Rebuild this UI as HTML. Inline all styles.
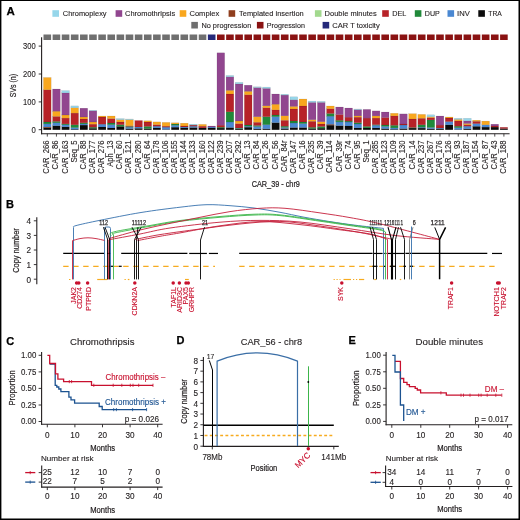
<!DOCTYPE html>
<html><head><meta charset="utf-8"><title>Figure</title>
<style>
html,body{margin:0;padding:0;background:#fff;width:520px;height:520px;overflow:hidden}
svg{display:block;will-change:transform}
text{font-family:"Liberation Sans", sans-serif}
</style></head><body>
<svg width="520" height="520" viewBox="0 0 520 520">
<rect width="520" height="520" fill="#fff"/>
<text x="6.6" y="15.1" font-size="11" fill="#000" textLength="8.3" lengthAdjust="spacingAndGlyphs" font-weight="bold" stroke="#000" stroke-width="0.25">A</text>
<rect x="52.4" y="10.2" width="6.6" height="6.6" fill="#96d6ea"/>
<text x="62.8" y="16.3" font-size="7.9" fill="#231f20" stroke="#231f20" stroke-width="0.12" textLength="43.8" lengthAdjust="spacingAndGlyphs">Chromoplexy</text>
<rect x="115.6" y="10.2" width="6.6" height="6.6" fill="#91468f"/>
<text x="125" y="16.3" font-size="7.9" fill="#231f20" stroke="#231f20" stroke-width="0.12" textLength="50.2" lengthAdjust="spacingAndGlyphs">Chromothripsis</text>
<rect x="179.7" y="10.2" width="6.6" height="6.6" fill="#f9a71e"/>
<text x="189.5" y="16.3" font-size="7.9" fill="#231f20" stroke="#231f20" stroke-width="0.12" textLength="29.7" lengthAdjust="spacingAndGlyphs">Complex</text>
<rect x="228.6" y="10.2" width="6.6" height="6.6" fill="#8f3e1d"/>
<text x="239" y="16.3" font-size="7.9" fill="#231f20" stroke="#231f20" stroke-width="0.12" textLength="64.7" lengthAdjust="spacingAndGlyphs">Templated insertion</text>
<rect x="314.9" y="10.2" width="6.6" height="6.6" fill="#a2d98e"/>
<text x="324.6" y="16.3" font-size="7.9" fill="#231f20" stroke="#231f20" stroke-width="0.12" textLength="52.1" lengthAdjust="spacingAndGlyphs">Double minutes</text>
<rect x="382.2" y="10.2" width="6.6" height="6.6" fill="#b72228"/>
<text x="392.2" y="16.3" font-size="7.9" fill="#231f20" stroke="#231f20" stroke-width="0.12" textLength="14.1" lengthAdjust="spacingAndGlyphs">DEL</text>
<rect x="414.8" y="10.2" width="6.6" height="6.6" fill="#20893a"/>
<text x="424.8" y="16.3" font-size="7.9" fill="#231f20" stroke="#231f20" stroke-width="0.12" textLength="15" lengthAdjust="spacingAndGlyphs">DUP</text>
<rect x="447.5" y="10.2" width="6.6" height="6.6" fill="#4a88d2"/>
<text x="457.1" y="16.3" font-size="7.9" fill="#231f20" stroke="#231f20" stroke-width="0.12" textLength="12.7" lengthAdjust="spacingAndGlyphs">INV</text>
<rect x="478.3" y="10.2" width="6.6" height="6.6" fill="#0b0b0b"/>
<text x="488.3" y="16.3" font-size="7.9" fill="#231f20" stroke="#231f20" stroke-width="0.12" textLength="13.5" lengthAdjust="spacingAndGlyphs">TRA</text>
<rect x="191.3" y="21.9" width="6.6" height="6.6" fill="#6f6f6f"/>
<text x="201.4" y="28.4" font-size="7.9" fill="#231f20" stroke="#231f20" stroke-width="0.12" textLength="49.9" lengthAdjust="spacingAndGlyphs">No progression</text>
<rect x="256.9" y="21.9" width="6.6" height="6.6" fill="#8a1212"/>
<text x="266.8" y="28.4" font-size="7.9" fill="#231f20" stroke="#231f20" stroke-width="0.12" textLength="38.1" lengthAdjust="spacingAndGlyphs">Progression</text>
<rect x="322.6" y="21.9" width="6.6" height="6.6" fill="#25297a"/>
<text x="332.3" y="28.4" font-size="7.9" fill="#231f20" stroke="#231f20" stroke-width="0.12" textLength="47.4" lengthAdjust="spacingAndGlyphs">CAR T toxicity</text>
<g stroke="rgba(0,0,0,0.18)" stroke-width="0.4">
<rect x="43.45" y="127.7" width="7.7" height="2.1" fill="#0b0b0b"/>
<rect x="43.45" y="127" width="7.7" height="0.7" fill="#8f3e1d"/>
<rect x="43.45" y="123.9" width="7.7" height="3.1" fill="#4a88d2"/>
<rect x="43.45" y="122" width="7.7" height="1.9" fill="#20893a"/>
<rect x="43.45" y="89.8" width="7.7" height="32.2" fill="#b72228"/>
<rect x="43.45" y="77.5" width="7.7" height="12.3" fill="#f9a71e"/>
<rect x="52.58" y="125.7" width="7.7" height="4.1" fill="#0b0b0b"/>
<rect x="52.58" y="122.8" width="7.7" height="2.9" fill="#4a88d2"/>
<rect x="52.58" y="121.4" width="7.7" height="1.4" fill="#20893a"/>
<rect x="52.58" y="116.4" width="7.7" height="5" fill="#b72228"/>
<rect x="52.58" y="111.2" width="7.7" height="5.2" fill="#f9a71e"/>
<rect x="52.58" y="89" width="7.7" height="22.2" fill="#91468f"/>
<rect x="61.71" y="126.8" width="7.7" height="3" fill="#0b0b0b"/>
<rect x="61.71" y="124.8" width="7.7" height="2" fill="#4a88d2"/>
<rect x="61.71" y="123.9" width="7.7" height="0.9" fill="#20893a"/>
<rect x="61.71" y="118.1" width="7.7" height="5.8" fill="#b72228"/>
<rect x="61.71" y="115" width="7.7" height="3.1" fill="#f9a71e"/>
<rect x="61.71" y="92.9" width="7.7" height="22.1" fill="#91468f"/>
<rect x="61.71" y="90.6" width="7.7" height="2.3" fill="#96d6ea"/>
<rect x="70.85" y="129.3" width="7.7" height="0.5" fill="#0b0b0b"/>
<rect x="70.85" y="127.6" width="7.7" height="1.7" fill="#4a88d2"/>
<rect x="70.85" y="124.8" width="7.7" height="2.8" fill="#20893a"/>
<rect x="70.85" y="113.1" width="7.7" height="11.7" fill="#b72228"/>
<rect x="70.85" y="107.8" width="7.7" height="5.3" fill="#f9a71e"/>
<rect x="70.85" y="105.9" width="7.7" height="1.9" fill="#96d6ea"/>
<rect x="79.98" y="125.1" width="7.7" height="4.7" fill="#0b0b0b"/>
<rect x="79.98" y="123.9" width="7.7" height="1.2" fill="#4a88d2"/>
<rect x="79.98" y="122.8" width="7.7" height="1.1" fill="#20893a"/>
<rect x="79.98" y="119" width="7.7" height="3.8" fill="#b72228"/>
<rect x="79.98" y="117" width="7.7" height="2" fill="#f9a71e"/>
<rect x="79.98" y="108.2" width="7.7" height="8.8" fill="#91468f"/>
<rect x="89.11" y="128.3" width="7.7" height="1.5" fill="#0b0b0b"/>
<rect x="89.11" y="127.2" width="7.7" height="1.1" fill="#20893a"/>
<rect x="89.11" y="124.2" width="7.7" height="3" fill="#b72228"/>
<rect x="89.11" y="122" width="7.7" height="2.2" fill="#f9a71e"/>
<rect x="89.11" y="110.8" width="7.7" height="11.2" fill="#91468f"/>
<rect x="89.11" y="110.2" width="7.7" height="0.6" fill="#96d6ea"/>
<rect x="98.24" y="127" width="7.7" height="2.8" fill="#0b0b0b"/>
<rect x="98.24" y="124.2" width="7.7" height="2.8" fill="#4a88d2"/>
<rect x="98.24" y="117" width="7.7" height="7.2" fill="#b72228"/>
<rect x="98.24" y="116" width="7.7" height="1" fill="#f9a71e"/>
<rect x="107.37" y="128" width="7.7" height="1.8" fill="#0b0b0b"/>
<rect x="107.37" y="124.7" width="7.7" height="3.3" fill="#4a88d2"/>
<rect x="107.37" y="123" width="7.7" height="1.7" fill="#20893a"/>
<rect x="107.37" y="118.6" width="7.7" height="4.4" fill="#b72228"/>
<rect x="107.37" y="116" width="7.7" height="2.6" fill="#f9a71e"/>
<rect x="116.51" y="126.4" width="7.7" height="3.4" fill="#0b0b0b"/>
<rect x="116.51" y="124.7" width="7.7" height="1.7" fill="#20893a"/>
<rect x="116.51" y="122" width="7.7" height="2.7" fill="#b72228"/>
<rect x="116.51" y="119.7" width="7.7" height="2.3" fill="#f9a71e"/>
<rect x="116.51" y="118.6" width="7.7" height="1.1" fill="#96d6ea"/>
<rect x="125.64" y="128.6" width="7.7" height="1.2" fill="#0b0b0b"/>
<rect x="125.64" y="127.2" width="7.7" height="1.4" fill="#4a88d2"/>
<rect x="125.64" y="126.4" width="7.7" height="0.8" fill="#20893a"/>
<rect x="125.64" y="125.8" width="7.7" height="0.6" fill="#b72228"/>
<rect x="125.64" y="119.7" width="7.7" height="6.1" fill="#f9a71e"/>
<rect x="125.64" y="119" width="7.7" height="0.7" fill="#96d6ea"/>
<rect x="134.77" y="128.3" width="7.7" height="1.5" fill="#0b0b0b"/>
<rect x="134.77" y="127" width="7.7" height="1.3" fill="#4a88d2"/>
<rect x="134.77" y="120.5" width="7.7" height="6.5" fill="#b72228"/>
<rect x="143.9" y="128.6" width="7.7" height="1.2" fill="#0b0b0b"/>
<rect x="143.9" y="126.4" width="7.7" height="2.2" fill="#20893a"/>
<rect x="143.9" y="122" width="7.7" height="4.4" fill="#b72228"/>
<rect x="143.9" y="120.8" width="7.7" height="1.2" fill="#f9a71e"/>
<rect x="153.03" y="127.9" width="7.7" height="1.9" fill="#0b0b0b"/>
<rect x="153.03" y="126.2" width="7.7" height="1.7" fill="#4a88d2"/>
<rect x="153.03" y="124.7" width="7.7" height="1.5" fill="#b72228"/>
<rect x="153.03" y="121.9" width="7.7" height="2.8" fill="#f9a71e"/>
<rect x="162.17" y="129.4" width="7.7" height="0.4" fill="#0b0b0b"/>
<rect x="162.17" y="127.2" width="7.7" height="2.2" fill="#4a88d2"/>
<rect x="162.17" y="126.2" width="7.7" height="1" fill="#b72228"/>
<rect x="162.17" y="122.4" width="7.7" height="3.8" fill="#f9a71e"/>
<rect x="171.3" y="127.2" width="7.7" height="2.6" fill="#0b0b0b"/>
<rect x="171.3" y="125.3" width="7.7" height="1.9" fill="#4a88d2"/>
<rect x="171.3" y="124" width="7.7" height="1.3" fill="#20893a"/>
<rect x="171.3" y="122.8" width="7.7" height="1.2" fill="#f9a71e"/>
<rect x="180.43" y="127.9" width="7.7" height="1.9" fill="#0b0b0b"/>
<rect x="180.43" y="127" width="7.7" height="0.9" fill="#4a88d2"/>
<rect x="180.43" y="126" width="7.7" height="1" fill="#b72228"/>
<rect x="180.43" y="123.2" width="7.7" height="2.8" fill="#f9a71e"/>
<rect x="189.56" y="127.5" width="7.7" height="2.3" fill="#0b0b0b"/>
<rect x="189.56" y="126.2" width="7.7" height="1.3" fill="#4a88d2"/>
<rect x="189.56" y="125.1" width="7.7" height="1.1" fill="#b72228"/>
<rect x="189.56" y="124.2" width="7.7" height="0.9" fill="#96d6ea"/>
<rect x="198.69" y="127.9" width="7.7" height="1.9" fill="#0b0b0b"/>
<rect x="198.69" y="126.2" width="7.7" height="1.7" fill="#b72228"/>
<rect x="198.69" y="124.4" width="7.7" height="1.8" fill="#f9a71e"/>
<rect x="207.83" y="127.9" width="7.7" height="1.9" fill="#0b0b0b"/>
<rect x="207.83" y="127" width="7.7" height="0.9" fill="#4a88d2"/>
<rect x="207.83" y="126" width="7.7" height="1" fill="#91468f"/>
<rect x="216.96" y="128.1" width="7.7" height="1.7" fill="#0b0b0b"/>
<rect x="216.96" y="127.2" width="7.7" height="0.9" fill="#20893a"/>
<rect x="216.96" y="125.2" width="7.7" height="2" fill="#b72228"/>
<rect x="216.96" y="52.8" width="7.7" height="72.4" fill="#91468f"/>
<rect x="226.09" y="127.5" width="7.7" height="2.3" fill="#0b0b0b"/>
<rect x="226.09" y="122" width="7.7" height="5.5" fill="#4a88d2"/>
<rect x="226.09" y="111.8" width="7.7" height="10.2" fill="#20893a"/>
<rect x="226.09" y="94" width="7.7" height="17.8" fill="#b72228"/>
<rect x="226.09" y="90.3" width="7.7" height="3.7" fill="#f9a71e"/>
<rect x="226.09" y="76.8" width="7.7" height="13.5" fill="#91468f"/>
<rect x="226.09" y="75.5" width="7.7" height="1.3" fill="#96d6ea"/>
<rect x="235.22" y="129" width="7.7" height="0.8" fill="#0b0b0b"/>
<rect x="235.22" y="128.5" width="7.7" height="0.5" fill="#4a88d2"/>
<rect x="235.22" y="128" width="7.7" height="0.5" fill="#20893a"/>
<rect x="235.22" y="123.6" width="7.7" height="4.4" fill="#b72228"/>
<rect x="235.22" y="121" width="7.7" height="2.6" fill="#f9a71e"/>
<rect x="235.22" y="83.9" width="7.7" height="37.1" fill="#91468f"/>
<rect x="235.22" y="82.4" width="7.7" height="1.5" fill="#96d6ea"/>
<rect x="244.35" y="127.2" width="7.7" height="2.6" fill="#0b0b0b"/>
<rect x="244.35" y="126.2" width="7.7" height="1" fill="#4a88d2"/>
<rect x="244.35" y="125" width="7.7" height="1.2" fill="#20893a"/>
<rect x="244.35" y="94.8" width="7.7" height="30.2" fill="#b72228"/>
<rect x="244.35" y="91.3" width="7.7" height="3.5" fill="#f9a71e"/>
<rect x="244.35" y="85.2" width="7.7" height="6.1" fill="#91468f"/>
<rect x="253.49" y="128.8" width="7.7" height="1" fill="#0b0b0b"/>
<rect x="253.49" y="126.5" width="7.7" height="2.3" fill="#4a88d2"/>
<rect x="253.49" y="125.5" width="7.7" height="1" fill="#20893a"/>
<rect x="253.49" y="122.3" width="7.7" height="3.2" fill="#b72228"/>
<rect x="253.49" y="116.7" width="7.7" height="5.6" fill="#f9a71e"/>
<rect x="253.49" y="87.6" width="7.7" height="29.1" fill="#91468f"/>
<rect x="253.49" y="86.8" width="7.7" height="0.8" fill="#96d6ea"/>
<rect x="262.62" y="128.8" width="7.7" height="1" fill="#0b0b0b"/>
<rect x="262.62" y="124.7" width="7.7" height="4.1" fill="#4a88d2"/>
<rect x="262.62" y="116.7" width="7.7" height="8" fill="#20893a"/>
<rect x="262.62" y="107.8" width="7.7" height="8.9" fill="#b72228"/>
<rect x="262.62" y="105.8" width="7.7" height="2" fill="#f9a71e"/>
<rect x="262.62" y="88.4" width="7.7" height="17.4" fill="#91468f"/>
<rect x="262.62" y="87.1" width="7.7" height="1.3" fill="#96d6ea"/>
<rect x="271.75" y="122.6" width="7.7" height="7.2" fill="#0b0b0b"/>
<rect x="271.75" y="116.7" width="7.7" height="5.9" fill="#4a88d2"/>
<rect x="271.75" y="115" width="7.7" height="1.7" fill="#20893a"/>
<rect x="271.75" y="109.9" width="7.7" height="5.1" fill="#b72228"/>
<rect x="271.75" y="104.2" width="7.7" height="5.7" fill="#f9a71e"/>
<rect x="271.75" y="94" width="7.7" height="10.2" fill="#91468f"/>
<rect x="280.88" y="128.5" width="7.7" height="1.3" fill="#0b0b0b"/>
<rect x="280.88" y="127.5" width="7.7" height="1" fill="#4a88d2"/>
<rect x="280.88" y="126.2" width="7.7" height="1.3" fill="#20893a"/>
<rect x="280.88" y="120.3" width="7.7" height="5.9" fill="#b72228"/>
<rect x="280.88" y="115.8" width="7.7" height="4.5" fill="#f9a71e"/>
<rect x="280.88" y="95.1" width="7.7" height="20.7" fill="#91468f"/>
<rect x="280.88" y="94.3" width="7.7" height="0.8" fill="#96d6ea"/>
<rect x="290.01" y="127.5" width="7.7" height="2.3" fill="#0b0b0b"/>
<rect x="290.01" y="123" width="7.7" height="4.5" fill="#4a88d2"/>
<rect x="290.01" y="121" width="7.7" height="2" fill="#20893a"/>
<rect x="290.01" y="109" width="7.7" height="12" fill="#b72228"/>
<rect x="290.01" y="106.4" width="7.7" height="2.6" fill="#f9a71e"/>
<rect x="290.01" y="99.8" width="7.7" height="6.6" fill="#91468f"/>
<rect x="290.01" y="96.8" width="7.7" height="3" fill="#96d6ea"/>
<rect x="299.15" y="127.5" width="7.7" height="2.3" fill="#0b0b0b"/>
<rect x="299.15" y="123.6" width="7.7" height="3.9" fill="#4a88d2"/>
<rect x="299.15" y="122" width="7.7" height="1.6" fill="#20893a"/>
<rect x="299.15" y="106" width="7.7" height="16" fill="#b72228"/>
<rect x="299.15" y="99" width="7.7" height="7" fill="#f9a71e"/>
<rect x="308.28" y="128.5" width="7.7" height="1.3" fill="#0b0b0b"/>
<rect x="308.28" y="127.3" width="7.7" height="1.2" fill="#20893a"/>
<rect x="308.28" y="121.3" width="7.7" height="6" fill="#b72228"/>
<rect x="308.28" y="119.7" width="7.7" height="1.6" fill="#f9a71e"/>
<rect x="308.28" y="102.4" width="7.7" height="17.3" fill="#91468f"/>
<rect x="308.28" y="101.1" width="7.7" height="1.3" fill="#96d6ea"/>
<rect x="317.41" y="128.2" width="7.7" height="1.6" fill="#0b0b0b"/>
<rect x="317.41" y="126.5" width="7.7" height="1.7" fill="#20893a"/>
<rect x="317.41" y="124" width="7.7" height="2.5" fill="#b72228"/>
<rect x="317.41" y="121.7" width="7.7" height="2.3" fill="#f9a71e"/>
<rect x="317.41" y="102.4" width="7.7" height="19.3" fill="#91468f"/>
<rect x="317.41" y="101.4" width="7.7" height="1" fill="#96d6ea"/>
<rect x="326.54" y="125.2" width="7.7" height="4.6" fill="#0b0b0b"/>
<rect x="326.54" y="124.3" width="7.7" height="0.9" fill="#8f3e1d"/>
<rect x="326.54" y="116.2" width="7.7" height="8.1" fill="#4a88d2"/>
<rect x="326.54" y="113.5" width="7.7" height="2.7" fill="#20893a"/>
<rect x="326.54" y="108.8" width="7.7" height="4.7" fill="#b72228"/>
<rect x="326.54" y="106" width="7.7" height="2.8" fill="#f9a71e"/>
<rect x="335.67" y="125.6" width="7.7" height="4.2" fill="#0b0b0b"/>
<rect x="335.67" y="121.9" width="7.7" height="3.7" fill="#4a88d2"/>
<rect x="335.67" y="120.3" width="7.7" height="1.6" fill="#20893a"/>
<rect x="335.67" y="114.5" width="7.7" height="5.8" fill="#b72228"/>
<rect x="335.67" y="107" width="7.7" height="7.5" fill="#91468f"/>
<rect x="344.81" y="126" width="7.7" height="3.8" fill="#0b0b0b"/>
<rect x="344.81" y="122" width="7.7" height="4" fill="#4a88d2"/>
<rect x="344.81" y="121.1" width="7.7" height="0.9" fill="#20893a"/>
<rect x="344.81" y="117.2" width="7.7" height="3.9" fill="#b72228"/>
<rect x="344.81" y="108" width="7.7" height="9.2" fill="#91468f"/>
<rect x="353.94" y="127.9" width="7.7" height="1.9" fill="#0b0b0b"/>
<rect x="353.94" y="124" width="7.7" height="3.9" fill="#4a88d2"/>
<rect x="353.94" y="122.7" width="7.7" height="1.3" fill="#20893a"/>
<rect x="353.94" y="117.2" width="7.7" height="5.5" fill="#b72228"/>
<rect x="353.94" y="115.9" width="7.7" height="1.3" fill="#f9a71e"/>
<rect x="353.94" y="109.6" width="7.7" height="6.3" fill="#91468f"/>
<rect x="353.94" y="109" width="7.7" height="0.6" fill="#96d6ea"/>
<rect x="363.07" y="127.9" width="7.7" height="1.9" fill="#0b0b0b"/>
<rect x="363.07" y="126.4" width="7.7" height="1.5" fill="#20893a"/>
<rect x="363.07" y="118.1" width="7.7" height="8.3" fill="#b72228"/>
<rect x="363.07" y="109.4" width="7.7" height="8.7" fill="#91468f"/>
<rect x="372.2" y="127.9" width="7.7" height="1.9" fill="#0b0b0b"/>
<rect x="372.2" y="125.3" width="7.7" height="2.6" fill="#4a88d2"/>
<rect x="372.2" y="124.7" width="7.7" height="0.6" fill="#20893a"/>
<rect x="372.2" y="118.1" width="7.7" height="6.6" fill="#b72228"/>
<rect x="372.2" y="115.9" width="7.7" height="2.2" fill="#f9a71e"/>
<rect x="372.2" y="110.9" width="7.7" height="5" fill="#91468f"/>
<rect x="381.33" y="128.6" width="7.7" height="1.2" fill="#0b0b0b"/>
<rect x="381.33" y="126.4" width="7.7" height="2.2" fill="#4a88d2"/>
<rect x="381.33" y="125" width="7.7" height="1.4" fill="#20893a"/>
<rect x="381.33" y="117.5" width="7.7" height="7.5" fill="#b72228"/>
<rect x="381.33" y="112" width="7.7" height="5.5" fill="#91468f"/>
<rect x="390.47" y="129.3" width="7.7" height="0.5" fill="#0b0b0b"/>
<rect x="390.47" y="127.9" width="7.7" height="1.4" fill="#4a88d2"/>
<rect x="390.47" y="125.3" width="7.7" height="2.6" fill="#20893a"/>
<rect x="390.47" y="115.9" width="7.7" height="9.4" fill="#b72228"/>
<rect x="390.47" y="113.3" width="7.7" height="2.6" fill="#f9a71e"/>
<rect x="399.6" y="128.6" width="7.7" height="1.2" fill="#0b0b0b"/>
<rect x="399.6" y="125" width="7.7" height="3.6" fill="#4a88d2"/>
<rect x="399.6" y="124" width="7.7" height="1" fill="#b72228"/>
<rect x="399.6" y="113.9" width="7.7" height="10.1" fill="#91468f"/>
<rect x="408.73" y="128.1" width="7.7" height="1.7" fill="#0b0b0b"/>
<rect x="408.73" y="127.5" width="7.7" height="0.6" fill="#20893a"/>
<rect x="408.73" y="119" width="7.7" height="8.5" fill="#b72228"/>
<rect x="408.73" y="113.7" width="7.7" height="5.3" fill="#f9a71e"/>
<rect x="417.86" y="128.1" width="7.7" height="1.7" fill="#0b0b0b"/>
<rect x="417.86" y="127.2" width="7.7" height="0.9" fill="#4a88d2"/>
<rect x="417.86" y="124.8" width="7.7" height="2.4" fill="#20893a"/>
<rect x="417.86" y="118.3" width="7.7" height="6.5" fill="#b72228"/>
<rect x="417.86" y="114.4" width="7.7" height="3.9" fill="#f9a71e"/>
<rect x="426.99" y="128.8" width="7.7" height="1" fill="#0b0b0b"/>
<rect x="426.99" y="127.5" width="7.7" height="1.3" fill="#4a88d2"/>
<rect x="426.99" y="119.9" width="7.7" height="7.6" fill="#20893a"/>
<rect x="426.99" y="117.7" width="7.7" height="2.2" fill="#b72228"/>
<rect x="426.99" y="116.7" width="7.7" height="1" fill="#f9a71e"/>
<rect x="426.99" y="114.8" width="7.7" height="1.9" fill="#96d6ea"/>
<rect x="436.13" y="129" width="7.7" height="0.8" fill="#0b0b0b"/>
<rect x="436.13" y="128.1" width="7.7" height="0.9" fill="#4a88d2"/>
<rect x="436.13" y="125.1" width="7.7" height="3" fill="#b72228"/>
<rect x="436.13" y="116" width="7.7" height="9.1" fill="#91468f"/>
<rect x="445.26" y="124.8" width="7.7" height="5" fill="#0b0b0b"/>
<rect x="445.26" y="121.6" width="7.7" height="3.2" fill="#4a88d2"/>
<rect x="445.26" y="118" width="7.7" height="3.6" fill="#b72228"/>
<rect x="445.26" y="117" width="7.7" height="1" fill="#f9a71e"/>
<rect x="454.39" y="129.4" width="7.7" height="0.4" fill="#0b0b0b"/>
<rect x="454.39" y="127.7" width="7.7" height="1.7" fill="#4a88d2"/>
<rect x="454.39" y="126.2" width="7.7" height="1.5" fill="#20893a"/>
<rect x="454.39" y="120.9" width="7.7" height="5.3" fill="#b72228"/>
<rect x="454.39" y="119.4" width="7.7" height="1.5" fill="#f9a71e"/>
<rect x="454.39" y="118.3" width="7.7" height="1.1" fill="#96d6ea"/>
<rect x="463.52" y="128.8" width="7.7" height="1" fill="#0b0b0b"/>
<rect x="463.52" y="126.2" width="7.7" height="2.6" fill="#4a88d2"/>
<rect x="463.52" y="124.8" width="7.7" height="1.4" fill="#b72228"/>
<rect x="463.52" y="123.5" width="7.7" height="1.3" fill="#f9a71e"/>
<rect x="463.52" y="120.9" width="7.7" height="2.6" fill="#91468f"/>
<rect x="463.52" y="118.3" width="7.7" height="2.6" fill="#96d6ea"/>
<rect x="472.65" y="126.3" width="7.7" height="3.5" fill="#0b0b0b"/>
<rect x="472.65" y="123.6" width="7.7" height="2.7" fill="#4a88d2"/>
<rect x="472.65" y="121.3" width="7.7" height="2.3" fill="#b72228"/>
<rect x="472.65" y="120.2" width="7.7" height="1.1" fill="#f9a71e"/>
<rect x="481.79" y="127.1" width="7.7" height="2.7" fill="#0b0b0b"/>
<rect x="481.79" y="124.8" width="7.7" height="2.3" fill="#4a88d2"/>
<rect x="481.79" y="121.1" width="7.7" height="3.7" fill="#f9a71e"/>
<rect x="490.92" y="127.1" width="7.7" height="2.7" fill="#0b0b0b"/>
<rect x="490.92" y="126" width="7.7" height="1.1" fill="#b72228"/>
<rect x="490.92" y="124.2" width="7.7" height="1.8" fill="#91468f"/>
<rect x="500.05" y="128.6" width="7.7" height="1.2" fill="#0b0b0b"/>
<rect x="500.05" y="127.3" width="7.7" height="1.3" fill="#b72228"/>
</g>
<rect x="43.5" y="34.5" width="7.6" height="5.5" fill="#6f6f6f"/>
<rect x="52.63" y="34.5" width="7.6" height="5.5" fill="#6f6f6f"/>
<rect x="61.76" y="34.5" width="7.6" height="5.5" fill="#6f6f6f"/>
<rect x="70.9" y="34.5" width="7.6" height="5.5" fill="#6f6f6f"/>
<rect x="80.03" y="34.5" width="7.6" height="5.5" fill="#6f6f6f"/>
<rect x="89.16" y="34.5" width="7.6" height="5.5" fill="#6f6f6f"/>
<rect x="98.29" y="34.5" width="7.6" height="5.5" fill="#6f6f6f"/>
<rect x="107.42" y="34.5" width="7.6" height="5.5" fill="#6f6f6f"/>
<rect x="116.56" y="34.5" width="7.6" height="5.5" fill="#6f6f6f"/>
<rect x="125.69" y="34.5" width="7.6" height="5.5" fill="#6f6f6f"/>
<rect x="134.82" y="34.5" width="7.6" height="5.5" fill="#6f6f6f"/>
<rect x="143.95" y="34.5" width="7.6" height="5.5" fill="#6f6f6f"/>
<rect x="153.08" y="34.5" width="7.6" height="5.5" fill="#6f6f6f"/>
<rect x="162.22" y="34.5" width="7.6" height="5.5" fill="#6f6f6f"/>
<rect x="171.35" y="34.5" width="7.6" height="5.5" fill="#6f6f6f"/>
<rect x="180.48" y="34.5" width="7.6" height="5.5" fill="#6f6f6f"/>
<rect x="189.61" y="34.5" width="7.6" height="5.5" fill="#6f6f6f"/>
<rect x="198.74" y="34.5" width="7.6" height="5.5" fill="#6f6f6f"/>
<rect x="207.88" y="34.5" width="7.6" height="5.5" fill="#25297a"/>
<rect x="217.01" y="34.5" width="7.6" height="5.5" fill="#8a1212"/>
<rect x="226.14" y="34.5" width="7.6" height="5.5" fill="#8a1212"/>
<rect x="235.27" y="34.5" width="7.6" height="5.5" fill="#8a1212"/>
<rect x="244.4" y="34.5" width="7.6" height="5.5" fill="#8a1212"/>
<rect x="253.54" y="34.5" width="7.6" height="5.5" fill="#8a1212"/>
<rect x="262.67" y="34.5" width="7.6" height="5.5" fill="#8a1212"/>
<rect x="271.8" y="34.5" width="7.6" height="5.5" fill="#8a1212"/>
<rect x="280.93" y="34.5" width="7.6" height="5.5" fill="#8a1212"/>
<rect x="290.06" y="34.5" width="7.6" height="5.5" fill="#8a1212"/>
<rect x="299.2" y="34.5" width="7.6" height="5.5" fill="#8a1212"/>
<rect x="308.33" y="34.5" width="7.6" height="5.5" fill="#8a1212"/>
<rect x="317.46" y="34.5" width="7.6" height="5.5" fill="#8a1212"/>
<rect x="326.59" y="34.5" width="7.6" height="5.5" fill="#8a1212"/>
<rect x="335.72" y="34.5" width="7.6" height="5.5" fill="#8a1212"/>
<rect x="344.86" y="34.5" width="7.6" height="5.5" fill="#8a1212"/>
<rect x="353.99" y="34.5" width="7.6" height="5.5" fill="#8a1212"/>
<rect x="363.12" y="34.5" width="7.6" height="5.5" fill="#8a1212"/>
<rect x="372.25" y="34.5" width="7.6" height="5.5" fill="#8a1212"/>
<rect x="381.38" y="34.5" width="7.6" height="5.5" fill="#8a1212"/>
<rect x="390.52" y="34.5" width="7.6" height="5.5" fill="#8a1212"/>
<rect x="399.65" y="34.5" width="7.6" height="5.5" fill="#8a1212"/>
<rect x="408.78" y="34.5" width="7.6" height="5.5" fill="#8a1212"/>
<rect x="417.91" y="34.5" width="7.6" height="5.5" fill="#8a1212"/>
<rect x="427.04" y="34.5" width="7.6" height="5.5" fill="#8a1212"/>
<rect x="436.18" y="34.5" width="7.6" height="5.5" fill="#8a1212"/>
<rect x="445.31" y="34.5" width="7.6" height="5.5" fill="#8a1212"/>
<rect x="454.44" y="34.5" width="7.6" height="5.5" fill="#8a1212"/>
<rect x="463.57" y="34.5" width="7.6" height="5.5" fill="#8a1212"/>
<rect x="472.7" y="34.5" width="7.6" height="5.5" fill="#8a1212"/>
<rect x="481.84" y="34.5" width="7.6" height="5.5" fill="#8a1212"/>
<rect x="490.97" y="34.5" width="7.6" height="5.5" fill="#8a1212"/>
<rect x="500.1" y="34.5" width="7.6" height="5.5" fill="#8a1212"/>
<line x1="41.6" y1="37.2" x2="41.6" y2="134.2" stroke="#231f20" stroke-width="1.1"/>
<line x1="41.05" y1="133.7" x2="509.6" y2="133.7" stroke="#231f20" stroke-width="1.1"/>
<line x1="38.7" y1="129.7" x2="41.6" y2="129.7" stroke="#231f20" stroke-width="0.9"/>
<text x="35.7" y="132.9" font-size="8.9" text-anchor="end" fill="#231f20" stroke="#231f20" stroke-width="0.12" textLength="4.3" lengthAdjust="spacingAndGlyphs">0</text>
<line x1="38.7" y1="101.9" x2="41.6" y2="101.9" stroke="#231f20" stroke-width="0.9"/>
<text x="35.7" y="105.1" font-size="8.9" text-anchor="end" fill="#231f20" stroke="#231f20" stroke-width="0.12" textLength="12.6" lengthAdjust="spacingAndGlyphs">100</text>
<line x1="38.7" y1="74" x2="41.6" y2="74" stroke="#231f20" stroke-width="0.9"/>
<text x="35.7" y="77.2" font-size="8.9" text-anchor="end" fill="#231f20" stroke="#231f20" stroke-width="0.12" textLength="12.6" lengthAdjust="spacingAndGlyphs">200</text>
<line x1="38.7" y1="46.1" x2="41.6" y2="46.1" stroke="#231f20" stroke-width="0.9"/>
<text x="35.7" y="49.3" font-size="8.9" text-anchor="end" fill="#231f20" stroke="#231f20" stroke-width="0.12" textLength="12.6" lengthAdjust="spacingAndGlyphs">300</text>
<line x1="47.3" y1="133.7" x2="47.3" y2="136.6" stroke="#231f20" stroke-width="0.8"/>
<text x="49.3" y="140.4" font-size="8.2" text-anchor="end" fill="#231f20" stroke="#231f20" stroke-width="0.12" textLength="33.24" lengthAdjust="spacingAndGlyphs" transform="rotate(-90 49.3 140.4)">CAR_266</text>
<line x1="56.43" y1="133.7" x2="56.43" y2="136.6" stroke="#231f20" stroke-width="0.8"/>
<text x="58.43" y="140.4" font-size="8.2" text-anchor="end" fill="#231f20" stroke="#231f20" stroke-width="0.12" textLength="28.98" lengthAdjust="spacingAndGlyphs" transform="rotate(-90 58.43 140.4)">CAR_86</text>
<line x1="65.56" y1="133.7" x2="65.56" y2="136.6" stroke="#231f20" stroke-width="0.8"/>
<text x="67.56" y="140.4" font-size="8.2" text-anchor="end" fill="#231f20" stroke="#231f20" stroke-width="0.12" textLength="33.24" lengthAdjust="spacingAndGlyphs" transform="rotate(-90 67.56 140.4)">CAR_163</text>
<line x1="74.7" y1="133.7" x2="74.7" y2="136.6" stroke="#231f20" stroke-width="0.8"/>
<text x="76.7" y="140.4" font-size="8.2" text-anchor="end" fill="#231f20" stroke="#231f20" stroke-width="0.12" textLength="22.17" lengthAdjust="spacingAndGlyphs" transform="rotate(-90 76.7 140.4)">Seq_5</text>
<line x1="83.83" y1="133.7" x2="83.83" y2="136.6" stroke="#231f20" stroke-width="0.8"/>
<text x="85.83" y="140.4" font-size="8.2" text-anchor="end" fill="#231f20" stroke="#231f20" stroke-width="0.12" textLength="28.98" lengthAdjust="spacingAndGlyphs" transform="rotate(-90 85.83 140.4)">CAR_88</text>
<line x1="92.96" y1="133.7" x2="92.96" y2="136.6" stroke="#231f20" stroke-width="0.8"/>
<text x="94.96" y="140.4" font-size="8.2" text-anchor="end" fill="#231f20" stroke="#231f20" stroke-width="0.12" textLength="33.24" lengthAdjust="spacingAndGlyphs" transform="rotate(-90 94.96 140.4)">CAR_177</text>
<line x1="102.09" y1="133.7" x2="102.09" y2="136.6" stroke="#231f20" stroke-width="0.8"/>
<text x="104.09" y="140.4" font-size="8.2" text-anchor="end" fill="#231f20" stroke="#231f20" stroke-width="0.12" textLength="33.24" lengthAdjust="spacingAndGlyphs" transform="rotate(-90 104.09 140.4)">CAR_276</text>
<line x1="111.22" y1="133.7" x2="111.22" y2="136.6" stroke="#231f20" stroke-width="0.8"/>
<text x="113.22" y="140.4" font-size="8.2" text-anchor="end" fill="#231f20" stroke="#231f20" stroke-width="0.12" textLength="26.43" lengthAdjust="spacingAndGlyphs" transform="rotate(-90 113.22 140.4)">Aph_13</text>
<line x1="120.36" y1="133.7" x2="120.36" y2="136.6" stroke="#231f20" stroke-width="0.8"/>
<text x="122.36" y="140.4" font-size="8.2" text-anchor="end" fill="#231f20" stroke="#231f20" stroke-width="0.12" textLength="28.98" lengthAdjust="spacingAndGlyphs" transform="rotate(-90 122.36 140.4)">CAR_60</text>
<line x1="129.49" y1="133.7" x2="129.49" y2="136.6" stroke="#231f20" stroke-width="0.8"/>
<text x="131.49" y="140.4" font-size="8.2" text-anchor="end" fill="#231f20" stroke="#231f20" stroke-width="0.12" textLength="33.24" lengthAdjust="spacingAndGlyphs" transform="rotate(-90 131.49 140.4)">CAR_121</text>
<line x1="138.62" y1="133.7" x2="138.62" y2="136.6" stroke="#231f20" stroke-width="0.8"/>
<text x="140.62" y="140.4" font-size="8.2" text-anchor="end" fill="#231f20" stroke="#231f20" stroke-width="0.12" textLength="33.24" lengthAdjust="spacingAndGlyphs" transform="rotate(-90 140.62 140.4)">CAR_280</text>
<line x1="147.75" y1="133.7" x2="147.75" y2="136.6" stroke="#231f20" stroke-width="0.8"/>
<text x="149.75" y="140.4" font-size="8.2" text-anchor="end" fill="#231f20" stroke="#231f20" stroke-width="0.12" textLength="28.98" lengthAdjust="spacingAndGlyphs" transform="rotate(-90 149.75 140.4)">CAR_64</text>
<line x1="156.88" y1="133.7" x2="156.88" y2="136.6" stroke="#231f20" stroke-width="0.8"/>
<text x="158.88" y="140.4" font-size="8.2" text-anchor="end" fill="#231f20" stroke="#231f20" stroke-width="0.12" textLength="33.24" lengthAdjust="spacingAndGlyphs" transform="rotate(-90 158.88 140.4)">CAR_178</text>
<line x1="166.02" y1="133.7" x2="166.02" y2="136.6" stroke="#231f20" stroke-width="0.8"/>
<text x="168.02" y="140.4" font-size="8.2" text-anchor="end" fill="#231f20" stroke="#231f20" stroke-width="0.12" textLength="33.24" lengthAdjust="spacingAndGlyphs" transform="rotate(-90 168.02 140.4)">CAR_106</text>
<line x1="175.15" y1="133.7" x2="175.15" y2="136.6" stroke="#231f20" stroke-width="0.8"/>
<text x="177.15" y="140.4" font-size="8.2" text-anchor="end" fill="#231f20" stroke="#231f20" stroke-width="0.12" textLength="33.24" lengthAdjust="spacingAndGlyphs" transform="rotate(-90 177.15 140.4)">CAR_155</text>
<line x1="184.28" y1="133.7" x2="184.28" y2="136.6" stroke="#231f20" stroke-width="0.8"/>
<text x="186.28" y="140.4" font-size="8.2" text-anchor="end" fill="#231f20" stroke="#231f20" stroke-width="0.12" textLength="33.24" lengthAdjust="spacingAndGlyphs" transform="rotate(-90 186.28 140.4)">CAR_144</text>
<line x1="193.41" y1="133.7" x2="193.41" y2="136.6" stroke="#231f20" stroke-width="0.8"/>
<text x="195.41" y="140.4" font-size="8.2" text-anchor="end" fill="#231f20" stroke="#231f20" stroke-width="0.12" textLength="33.24" lengthAdjust="spacingAndGlyphs" transform="rotate(-90 195.41 140.4)">CAR_133</text>
<line x1="202.54" y1="133.7" x2="202.54" y2="136.6" stroke="#231f20" stroke-width="0.8"/>
<text x="204.54" y="140.4" font-size="8.2" text-anchor="end" fill="#231f20" stroke="#231f20" stroke-width="0.12" textLength="33.24" lengthAdjust="spacingAndGlyphs" transform="rotate(-90 204.54 140.4)">CAR_160</text>
<line x1="211.68" y1="133.7" x2="211.68" y2="136.6" stroke="#231f20" stroke-width="0.8"/>
<text x="213.68" y="140.4" font-size="8.2" text-anchor="end" fill="#231f20" stroke="#231f20" stroke-width="0.12" textLength="33.24" lengthAdjust="spacingAndGlyphs" transform="rotate(-90 213.68 140.4)">CAR_122</text>
<line x1="220.81" y1="133.7" x2="220.81" y2="136.6" stroke="#231f20" stroke-width="0.8"/>
<text x="222.81" y="140.4" font-size="8.2" text-anchor="end" fill="#231f20" stroke="#231f20" stroke-width="0.12" textLength="33.24" lengthAdjust="spacingAndGlyphs" transform="rotate(-90 222.81 140.4)">CAR_239</text>
<line x1="229.94" y1="133.7" x2="229.94" y2="136.6" stroke="#231f20" stroke-width="0.8"/>
<text x="231.94" y="140.4" font-size="8.2" text-anchor="end" fill="#231f20" stroke="#231f20" stroke-width="0.12" textLength="33.24" lengthAdjust="spacingAndGlyphs" transform="rotate(-90 231.94 140.4)">CAR_207</text>
<line x1="239.07" y1="133.7" x2="239.07" y2="136.6" stroke="#231f20" stroke-width="0.8"/>
<text x="241.07" y="140.4" font-size="8.2" text-anchor="end" fill="#231f20" stroke="#231f20" stroke-width="0.12" textLength="33.24" lengthAdjust="spacingAndGlyphs" transform="rotate(-90 241.07 140.4)">CAR_292</text>
<line x1="248.2" y1="133.7" x2="248.2" y2="136.6" stroke="#231f20" stroke-width="0.8"/>
<text x="250.2" y="140.4" font-size="8.2" text-anchor="end" fill="#231f20" stroke="#231f20" stroke-width="0.12" textLength="28.98" lengthAdjust="spacingAndGlyphs" transform="rotate(-90 250.2 140.4)">CAR_13</text>
<line x1="257.34" y1="133.7" x2="257.34" y2="136.6" stroke="#231f20" stroke-width="0.8"/>
<text x="259.34" y="140.4" font-size="8.2" text-anchor="end" fill="#231f20" stroke="#231f20" stroke-width="0.12" textLength="28.98" lengthAdjust="spacingAndGlyphs" transform="rotate(-90 259.34 140.4)">CAR_84</text>
<line x1="266.47" y1="133.7" x2="266.47" y2="136.6" stroke="#231f20" stroke-width="0.8"/>
<text x="268.47" y="140.4" font-size="8.2" text-anchor="end" fill="#231f20" stroke="#231f20" stroke-width="0.12" textLength="28.98" lengthAdjust="spacingAndGlyphs" transform="rotate(-90 268.47 140.4)">CAR_26</text>
<line x1="275.6" y1="133.7" x2="275.6" y2="136.6" stroke="#231f20" stroke-width="0.8"/>
<text x="277.6" y="140.4" font-size="8.2" text-anchor="end" fill="#231f20" stroke="#231f20" stroke-width="0.12" textLength="28.98" lengthAdjust="spacingAndGlyphs" transform="rotate(-90 277.6 140.4)">CAR_56</text>
<line x1="284.73" y1="133.7" x2="284.73" y2="136.6" stroke="#231f20" stroke-width="0.8"/>
<text x="286.73" y="140.4" font-size="8.2" text-anchor="end" fill="#231f20" stroke="#231f20" stroke-width="0.12" textLength="31.53" lengthAdjust="spacingAndGlyphs" transform="rotate(-90 286.73 140.4)">CAR_84r</text>
<line x1="293.86" y1="133.7" x2="293.86" y2="136.6" stroke="#231f20" stroke-width="0.8"/>
<text x="295.86" y="140.4" font-size="8.2" text-anchor="end" fill="#231f20" stroke="#231f20" stroke-width="0.12" textLength="33.24" lengthAdjust="spacingAndGlyphs" transform="rotate(-90 295.86 140.4)">CAR_147</text>
<line x1="303" y1="133.7" x2="303" y2="136.6" stroke="#231f20" stroke-width="0.8"/>
<text x="305" y="140.4" font-size="8.2" text-anchor="end" fill="#231f20" stroke="#231f20" stroke-width="0.12" textLength="28.98" lengthAdjust="spacingAndGlyphs" transform="rotate(-90 305 140.4)">CAR_16</text>
<line x1="312.13" y1="133.7" x2="312.13" y2="136.6" stroke="#231f20" stroke-width="0.8"/>
<text x="314.13" y="140.4" font-size="8.2" text-anchor="end" fill="#231f20" stroke="#231f20" stroke-width="0.12" textLength="33.24" lengthAdjust="spacingAndGlyphs" transform="rotate(-90 314.13 140.4)">CAR_235</text>
<line x1="321.26" y1="133.7" x2="321.26" y2="136.6" stroke="#231f20" stroke-width="0.8"/>
<text x="323.26" y="140.4" font-size="8.2" text-anchor="end" fill="#231f20" stroke="#231f20" stroke-width="0.12" textLength="28.98" lengthAdjust="spacingAndGlyphs" transform="rotate(-90 323.26 140.4)">CAR_39</text>
<line x1="330.39" y1="133.7" x2="330.39" y2="136.6" stroke="#231f20" stroke-width="0.8"/>
<text x="332.39" y="140.4" font-size="8.2" text-anchor="end" fill="#231f20" stroke="#231f20" stroke-width="0.12" textLength="32.67" lengthAdjust="spacingAndGlyphs" transform="rotate(-90 332.39 140.4)">CAR_114</text>
<line x1="339.52" y1="133.7" x2="339.52" y2="136.6" stroke="#231f20" stroke-width="0.8"/>
<text x="341.52" y="140.4" font-size="8.2" text-anchor="end" fill="#231f20" stroke="#231f20" stroke-width="0.12" textLength="31.53" lengthAdjust="spacingAndGlyphs" transform="rotate(-90 341.52 140.4)">CAR_39r</text>
<line x1="348.66" y1="133.7" x2="348.66" y2="136.6" stroke="#231f20" stroke-width="0.8"/>
<text x="350.66" y="140.4" font-size="8.2" text-anchor="end" fill="#231f20" stroke="#231f20" stroke-width="0.12" textLength="28.98" lengthAdjust="spacingAndGlyphs" transform="rotate(-90 350.66 140.4)">CAR_74</text>
<line x1="357.79" y1="133.7" x2="357.79" y2="136.6" stroke="#231f20" stroke-width="0.8"/>
<text x="359.79" y="140.4" font-size="8.2" text-anchor="end" fill="#231f20" stroke="#231f20" stroke-width="0.12" textLength="28.98" lengthAdjust="spacingAndGlyphs" transform="rotate(-90 359.79 140.4)">CAR_95</text>
<line x1="366.92" y1="133.7" x2="366.92" y2="136.6" stroke="#231f20" stroke-width="0.8"/>
<text x="368.92" y="140.4" font-size="8.2" text-anchor="end" fill="#231f20" stroke="#231f20" stroke-width="0.12" textLength="22.17" lengthAdjust="spacingAndGlyphs" transform="rotate(-90 368.92 140.4)">Seq_1</text>
<line x1="376.05" y1="133.7" x2="376.05" y2="136.6" stroke="#231f20" stroke-width="0.8"/>
<text x="378.05" y="140.4" font-size="8.2" text-anchor="end" fill="#231f20" stroke="#231f20" stroke-width="0.12" textLength="33.24" lengthAdjust="spacingAndGlyphs" transform="rotate(-90 378.05 140.4)">CAR_285</text>
<line x1="385.18" y1="133.7" x2="385.18" y2="136.6" stroke="#231f20" stroke-width="0.8"/>
<text x="387.18" y="140.4" font-size="8.2" text-anchor="end" fill="#231f20" stroke="#231f20" stroke-width="0.12" textLength="33.24" lengthAdjust="spacingAndGlyphs" transform="rotate(-90 387.18 140.4)">CAR_123</text>
<line x1="394.32" y1="133.7" x2="394.32" y2="136.6" stroke="#231f20" stroke-width="0.8"/>
<text x="396.32" y="140.4" font-size="8.2" text-anchor="end" fill="#231f20" stroke="#231f20" stroke-width="0.12" textLength="33.24" lengthAdjust="spacingAndGlyphs" transform="rotate(-90 396.32 140.4)">CAR_109</text>
<line x1="403.45" y1="133.7" x2="403.45" y2="136.6" stroke="#231f20" stroke-width="0.8"/>
<text x="405.45" y="140.4" font-size="8.2" text-anchor="end" fill="#231f20" stroke="#231f20" stroke-width="0.12" textLength="33.24" lengthAdjust="spacingAndGlyphs" transform="rotate(-90 405.45 140.4)">CAR_130</text>
<line x1="412.58" y1="133.7" x2="412.58" y2="136.6" stroke="#231f20" stroke-width="0.8"/>
<text x="414.58" y="140.4" font-size="8.2" text-anchor="end" fill="#231f20" stroke="#231f20" stroke-width="0.12" textLength="28.98" lengthAdjust="spacingAndGlyphs" transform="rotate(-90 414.58 140.4)">CAR_14</text>
<line x1="421.71" y1="133.7" x2="421.71" y2="136.6" stroke="#231f20" stroke-width="0.8"/>
<text x="423.71" y="140.4" font-size="8.2" text-anchor="end" fill="#231f20" stroke="#231f20" stroke-width="0.12" textLength="33.24" lengthAdjust="spacingAndGlyphs" transform="rotate(-90 423.71 140.4)">CAR_237</text>
<line x1="430.84" y1="133.7" x2="430.84" y2="136.6" stroke="#231f20" stroke-width="0.8"/>
<text x="432.84" y="140.4" font-size="8.2" text-anchor="end" fill="#231f20" stroke="#231f20" stroke-width="0.12" textLength="33.24" lengthAdjust="spacingAndGlyphs" transform="rotate(-90 432.84 140.4)">CAR_267</text>
<line x1="439.98" y1="133.7" x2="439.98" y2="136.6" stroke="#231f20" stroke-width="0.8"/>
<text x="441.98" y="140.4" font-size="8.2" text-anchor="end" fill="#231f20" stroke="#231f20" stroke-width="0.12" textLength="33.24" lengthAdjust="spacingAndGlyphs" transform="rotate(-90 441.98 140.4)">CAR_176</text>
<line x1="449.11" y1="133.7" x2="449.11" y2="136.6" stroke="#231f20" stroke-width="0.8"/>
<text x="451.11" y="140.4" font-size="8.2" text-anchor="end" fill="#231f20" stroke="#231f20" stroke-width="0.12" textLength="33.24" lengthAdjust="spacingAndGlyphs" transform="rotate(-90 451.11 140.4)">CAR_126</text>
<line x1="458.24" y1="133.7" x2="458.24" y2="136.6" stroke="#231f20" stroke-width="0.8"/>
<text x="460.24" y="140.4" font-size="8.2" text-anchor="end" fill="#231f20" stroke="#231f20" stroke-width="0.12" textLength="28.98" lengthAdjust="spacingAndGlyphs" transform="rotate(-90 460.24 140.4)">CAR_93</text>
<line x1="467.37" y1="133.7" x2="467.37" y2="136.6" stroke="#231f20" stroke-width="0.8"/>
<text x="469.37" y="140.4" font-size="8.2" text-anchor="end" fill="#231f20" stroke="#231f20" stroke-width="0.12" textLength="33.24" lengthAdjust="spacingAndGlyphs" transform="rotate(-90 469.37 140.4)">CAR_187</text>
<line x1="476.5" y1="133.7" x2="476.5" y2="136.6" stroke="#231f20" stroke-width="0.8"/>
<text x="478.5" y="140.4" font-size="8.2" text-anchor="end" fill="#231f20" stroke="#231f20" stroke-width="0.12" textLength="33.24" lengthAdjust="spacingAndGlyphs" transform="rotate(-90 478.5 140.4)">CAR_154</text>
<line x1="485.64" y1="133.7" x2="485.64" y2="136.6" stroke="#231f20" stroke-width="0.8"/>
<text x="487.64" y="140.4" font-size="8.2" text-anchor="end" fill="#231f20" stroke="#231f20" stroke-width="0.12" textLength="28.98" lengthAdjust="spacingAndGlyphs" transform="rotate(-90 487.64 140.4)">CAR_87</text>
<line x1="494.77" y1="133.7" x2="494.77" y2="136.6" stroke="#231f20" stroke-width="0.8"/>
<text x="496.77" y="140.4" font-size="8.2" text-anchor="end" fill="#231f20" stroke="#231f20" stroke-width="0.12" textLength="28.98" lengthAdjust="spacingAndGlyphs" transform="rotate(-90 496.77 140.4)">CAR_43</text>
<line x1="503.9" y1="133.7" x2="503.9" y2="136.6" stroke="#231f20" stroke-width="0.8"/>
<text x="505.9" y="140.4" font-size="8.2" text-anchor="end" fill="#231f20" stroke="#231f20" stroke-width="0.12" textLength="33.24" lengthAdjust="spacingAndGlyphs" transform="rotate(-90 505.9 140.4)">CAR_188</text>
<text x="16" y="85.6" font-size="9.7" text-anchor="middle" fill="#231f20" stroke="#231f20" stroke-width="0.2" textLength="23.2" lengthAdjust="spacingAndGlyphs" transform="rotate(-90 16 85.6)">SVs (n)</text>
<text x="275.8" y="187" font-size="8.9" text-anchor="middle" fill="#231f20" stroke="#231f20" stroke-width="0.22" textLength="48.2" lengthAdjust="spacingAndGlyphs">CAR_39 - chr9</text>
<text x="6.1" y="208.2" font-size="11" fill="#000" font-weight="bold" stroke="#000" stroke-width="0.25">B</text>
<line x1="36.8" y1="217.3" x2="36.8" y2="284.2" stroke="#231f20" stroke-width="1.1"/>
<line x1="33.8" y1="279.2" x2="36.8" y2="279.2" stroke="#231f20" stroke-width="0.9"/>
<text x="31" y="282.6" font-size="8.2" text-anchor="end" fill="#231f20" stroke="#231f20" stroke-width="0.12">0</text>
<line x1="33.8" y1="264.6" x2="36.8" y2="264.6" stroke="#231f20" stroke-width="0.9"/>
<text x="31" y="268" font-size="8.2" text-anchor="end" fill="#231f20" stroke="#231f20" stroke-width="0.12">1</text>
<line x1="33.8" y1="250" x2="36.8" y2="250" stroke="#231f20" stroke-width="0.9"/>
<text x="31" y="253.4" font-size="8.2" text-anchor="end" fill="#231f20" stroke="#231f20" stroke-width="0.12">2</text>
<line x1="33.8" y1="235.4" x2="36.8" y2="235.4" stroke="#231f20" stroke-width="0.9"/>
<text x="31" y="238.8" font-size="8.2" text-anchor="end" fill="#231f20" stroke="#231f20" stroke-width="0.12">3</text>
<line x1="33.8" y1="220.8" x2="36.8" y2="220.8" stroke="#231f20" stroke-width="0.9"/>
<text x="31" y="224.2" font-size="8.2" text-anchor="end" fill="#231f20" stroke="#231f20" stroke-width="0.12">4</text>
<text x="19.4" y="250.5" font-size="9.3" text-anchor="middle" fill="#231f20" stroke="#231f20" stroke-width="0.22" textLength="44.6" lengthAdjust="spacingAndGlyphs" transform="rotate(-90 19.4 250.5)">Copy number</text>
<line x1="63.2" y1="253.45" x2="104" y2="253.45" stroke="#000" stroke-width="1.2"/>
<line x1="107" y1="253.45" x2="110.6" y2="253.45" stroke="#000" stroke-width="1.2"/>
<line x1="121.2" y1="253.45" x2="187.4" y2="253.45" stroke="#000" stroke-width="1.2"/>
<line x1="189.2" y1="253.45" x2="206.9" y2="253.45" stroke="#000" stroke-width="1.2"/>
<line x1="208.9" y1="253.45" x2="218" y2="253.45" stroke="#000" stroke-width="1.2"/>
<line x1="239.2" y1="253.45" x2="372.6" y2="253.45" stroke="#000" stroke-width="1.2"/>
<line x1="374" y1="253.45" x2="382.6" y2="253.45" stroke="#000" stroke-width="1.2"/>
<line x1="384.2" y1="253.45" x2="386.6" y2="253.45" stroke="#000" stroke-width="1.2"/>
<line x1="388" y1="253.45" x2="391.2" y2="253.45" stroke="#000" stroke-width="1.2"/>
<line x1="392.6" y1="253.45" x2="404.2" y2="253.45" stroke="#000" stroke-width="1.2"/>
<line x1="405.4" y1="253.45" x2="487.3" y2="253.45" stroke="#000" stroke-width="1.2"/>
<line x1="492" y1="253.45" x2="502" y2="253.45" stroke="#000" stroke-width="1.2"/>
<line x1="63.2" y1="266.3" x2="215" y2="266.3" stroke="#f7ab1f" stroke-width="1.25" stroke-dasharray="5.4 4.6"/>
<line x1="239.2" y1="266.3" x2="497" y2="266.3" stroke="#f7ab1f" stroke-width="1.25" stroke-dasharray="5.4 4.6"/>
<line x1="109.4" y1="266.3" x2="113" y2="266.3" stroke="#000" stroke-width="1.2"/>
<line x1="118.8" y1="266.3" x2="121.7" y2="266.3" stroke="#000" stroke-width="1.2"/>
<line x1="372.5" y1="266.3" x2="377.5" y2="266.3" stroke="#000" stroke-width="1.2"/>
<line x1="384" y1="266.3" x2="386" y2="266.3" stroke="#000" stroke-width="1.2"/>
<line x1="390" y1="266.3" x2="396" y2="266.3" stroke="#000" stroke-width="1.2"/>
<line x1="403.5" y1="266.3" x2="406" y2="266.3" stroke="#000" stroke-width="1.2"/>
<line x1="409" y1="266.3" x2="413" y2="266.3" stroke="#000" stroke-width="1.2"/>
<line x1="69" y1="279.5" x2="70.4" y2="279.5" stroke="#f7ab1f" stroke-width="1.2"/>
<line x1="97.2" y1="279.5" x2="107.3" y2="279.5" stroke="#f7ab1f" stroke-width="1.2"/>
<line x1="124.5" y1="279.5" x2="125.8" y2="279.5" stroke="#f7ab1f" stroke-width="1.2"/>
<line x1="127.8" y1="279.5" x2="129.4" y2="279.5" stroke="#f7ab1f" stroke-width="1.2"/>
<line x1="185" y1="279.5" x2="188.8" y2="279.5" stroke="#f7ab1f" stroke-width="1.2"/>
<line x1="333.6" y1="279.5" x2="334.8" y2="279.5" stroke="#f7ab1f" stroke-width="1.2"/>
<line x1="336.5" y1="279.5" x2="337.7" y2="279.5" stroke="#f7ab1f" stroke-width="1.2"/>
<line x1="339.5" y1="279.5" x2="340.5" y2="279.5" stroke="#f7ab1f" stroke-width="1.2"/>
<line x1="343.5" y1="279.5" x2="351" y2="279.5" stroke="#f7ab1f" stroke-width="1.2"/>
<line x1="353" y1="279.5" x2="354.2" y2="279.5" stroke="#f7ab1f" stroke-width="1.2"/>
<line x1="356" y1="279.5" x2="357.2" y2="279.5" stroke="#f7ab1f" stroke-width="1.2"/>
<line x1="359" y1="279.5" x2="364.2" y2="279.5" stroke="#f7ab1f" stroke-width="1.2"/>
<line x1="374.2" y1="279.5" x2="376.2" y2="279.5" stroke="#f7ab1f" stroke-width="1.2"/>
<line x1="399.8" y1="279.5" x2="401.2" y2="279.5" stroke="#f7ab1f" stroke-width="1.2"/>
<path d="M73.5 279.4 L73.5 227.5 C73.92 227.18 71.58 226.8 76 225.6 C80.42 224.4 89.17 222.48 100 220.3 C110.83 218.12 127.5 214.7 141 212.5 C154.5 210.3 170 208.4 181 207.1 C192 205.8 198.83 204.93 207 204.7 C215.17 204.47 222.17 205.15 230 205.7 C237.83 206.25 245.67 206.9 254 208 C262.33 209.1 271.83 210.8 280 212.3 C288.17 213.8 294.67 215.45 303 217 C311.33 218.55 321.33 220.23 330 221.6 C338.67 222.97 346.08 224.07 355 225.2 C363.92 226.33 378.75 227.87 383.5 228.4 L383.5 279.4" fill="none" stroke="#3670ad" stroke-width="0.9" stroke-linejoin="round"/>
<path d="M104.5 279.4 L104.5 228.5 Q104.5 227 106 227 L109 227 Q110.5 227 110.5 228.5 L110.5 279.4" fill="none" stroke="#3670ad" stroke-width="0.9"/>
<path d="M72.5 279.4 L72.5 240.6 C73.75 240.27 77.42 239.07 80 238.6 C82.58 238.13 85.33 237.8 88 237.8 C90.67 237.8 93.27 238.17 96 238.6 C98.73 239.03 103 240.1 104.4 240.4" fill="none" stroke="#c51f3b" stroke-width="0.9" stroke-linejoin="round"/>
<path d="M113.5 279.4 L113.5 234.5 C113.75 234.23 108.92 234.27 115 232.9 C121.08 231.53 139.17 228.23 150 226.3 C160.83 224.37 168.33 222.8 180 221.3 C191.67 219.8 207.5 218.35 220 217.3 C232.5 216.25 245 215.28 255 215 C265 214.72 269.17 214.57 280 215.6 C290.83 216.63 308.33 219.53 320 221.2 C331.67 222.87 340.33 224.2 350 225.6 C359.67 227 372.08 228.53 378 229.6 C383.92 230.67 384.25 231.6 385.5 232 L385.5 279.4" fill="none" stroke="#3cb54a" stroke-width="0.9" stroke-linejoin="round"/>
<path d="M111.4 236 C111.73 235.33 106.97 233.75 113.4 232 C119.83 230.25 138.9 227.42 150 225.5 C161.1 223.58 168.33 222 180 220.5 C191.67 219 207.5 217.55 220 216.5 C232.5 215.45 245 214.47 255 214.2 C265 213.93 269.17 213.85 280 214.9 C290.83 215.95 308.33 218.83 320 220.5 C331.67 222.17 340.33 223.5 350 224.9 C359.67 226.3 372.25 227.88 378 228.9 C383.75 229.92 383.42 230.65 384.5 231" fill="none" stroke="#3cb54a" stroke-width="0.9" stroke-linejoin="round"/>
<path d="M108.8 238.6 C114 237.17 129.8 232.53 140 230 C150.2 227.47 160 225.52 170 223.4 C180 221.28 190 219.27 200 217.3 C210 215.33 220 213.1 230 211.6 C240 210.1 250.83 208.85 260 208.3 C269.17 207.75 275 207.53 285 208.3 C295 209.07 309.17 211.35 320 212.9 C330.83 214.45 340 215.78 350 217.6 C360 219.42 365.07 220.17 380 223.8 C394.93 227.43 429.67 236.8 439.6 239.4" fill="none" stroke="#c51f3b" stroke-width="0.9" stroke-linejoin="round"/>
<path d="M108.5 279.4 L108.8 239.8 C114 238.83 129.8 235.97 140 234 C150.2 232.03 156.67 229.97 170 228 C183.33 226.03 205 223.47 220 222.2 C235 220.93 246.67 220.43 260 220.4 C273.33 220.37 285 220.6 300 222 C315 223.4 334.17 226.55 350 228.8 C365.83 231.05 380.07 233.73 395 235.5 C409.93 237.27 432.17 238.75 439.6 239.4" fill="none" stroke="#c51f3b" stroke-width="0.9" stroke-linejoin="round"/>
<path d="M137.5 240.6 C141.25 239.88 152.92 237.58 160 236.3 C167.08 235.02 170 234.65 180 232.9 C190 231.15 206.67 227.68 220 225.8 C233.33 223.92 246.67 221.8 260 221.6 C273.33 221.4 286.67 223.23 300 224.6 C313.33 225.97 328.33 228.23 340 229.8 C351.67 231.37 362.08 232.4 370 234 C377.92 235.6 384.58 238.5 387.5 239.4 L387.5 279.4" fill="none" stroke="#c51f3b" stroke-width="0.9" stroke-linejoin="round"/>
<path d="M135 239.5 C139.17 238.68 149.17 236.35 160 234.6 C170.83 232.85 186.67 230.77 200 229 C213.33 227.23 226.67 225.27 240 224 C253.33 222.73 266.67 221.07 280 221.4 C293.33 221.73 306.67 224.15 320 226 C333.33 227.85 348 230.3 360 232.5 C372 234.7 386.67 238.08 392 239.2" fill="none" stroke="#c51f3b" stroke-width="0.9" stroke-linejoin="round"/>
<path d="M103.4 227.2 L107.5 239 L107.5 279.4" fill="none" stroke="#000" stroke-width="0.9"/>
<path d="M105 227.2 L109.5 239 L109.5 279.4" fill="none" stroke="#000" stroke-width="0.9"/>
<path d="M141.2 227.2 L134.5 239.5 L134.5 279.4" fill="none" stroke="#000" stroke-width="0.9"/>
<path d="M138 227.2 L136.5 239.5 L136.5 279.4" fill="none" stroke="#000" stroke-width="0.9"/>
<path d="M132 227.2 L138.5 239.5 L138.5 279.4" fill="none" stroke="#000" stroke-width="0.9"/>
<path d="M204.5 227.2 L200.5 240 L200.5 279.4" fill="none" stroke="#000" stroke-width="0.9"/>
<path d="M370 227.2 L373.5 239.5 L373.5 279.4" fill="none" stroke="#000" stroke-width="0.9"/>
<path d="M372.5 227.2 L376.5 239.5 L376.5 279.4" fill="none" stroke="#000" stroke-width="0.9"/>
<path d="M388 227.2 L391.5 239.5 L391.5 279.4" fill="none" stroke="#000" stroke-width="1.1"/>
<path d="M396 227.2 L392.5 239.5 L392.5 279.4" fill="none" stroke="#000" stroke-width="1.1"/>
<path d="M398.5 227.2 L395.5 239.5 L395.5 279.4" fill="none" stroke="#000" stroke-width="0.9"/>
<path d="M400.5 227.2 L404.5 239.5 L404.5 279.4" fill="none" stroke="#000" stroke-width="0.9"/>
<path d="M413 227.2 L409.5 239.5 L409.5 279.4" fill="none" stroke="#777" stroke-width="0.9"/>
<line x1="411.5" y1="226.5" x2="411.5" y2="279.4" stroke="#3670ad" stroke-width="0.9"/>
<path d="M434.8 227.4 L439.6 239.4" fill="none" stroke="#000" stroke-width="1"/>
<path d="M445.6 227.4 L439.6 239.4 L439.6 279.2" fill="none" stroke="#000" stroke-width="1.5"/>
<text x="99.3" y="224.9" font-size="7.4" fill="#231f20" textLength="8.6" lengthAdjust="spacingAndGlyphs" stroke="#231f20" stroke-width="0.25">112</text>
<text x="131.8" y="224.9" font-size="7.4" fill="#231f20" textLength="14.2" lengthAdjust="spacingAndGlyphs" stroke="#231f20" stroke-width="0.25">11112</text>
<text x="202" y="224.9" font-size="7.4" fill="#231f20" textLength="6" lengthAdjust="spacingAndGlyphs" stroke="#231f20" stroke-width="0.25">21</text>
<text x="369.6" y="224.9" font-size="7.4" fill="#231f20" textLength="7.8" lengthAdjust="spacingAndGlyphs" stroke="#231f20" stroke-width="0.25">1111</text>
<text x="377.6" y="224.9" font-size="7.4" fill="#231f20" textLength="4.6" lengthAdjust="spacingAndGlyphs" stroke="#231f20" stroke-width="0.25">11</text>
<text x="384.2" y="224.9" font-size="7.4" fill="#231f20" textLength="10.2" lengthAdjust="spacingAndGlyphs" stroke="#231f20" stroke-width="0.25">1216</text>
<text x="394.6" y="224.9" font-size="7.4" fill="#231f20" textLength="5.4" lengthAdjust="spacingAndGlyphs" stroke="#231f20" stroke-width="0.25">111</text>
<text x="400.4" y="224.9" font-size="7.4" fill="#231f20" textLength="2.6" lengthAdjust="spacingAndGlyphs" stroke="#231f20" stroke-width="0.25">1</text>
<text x="412.8" y="224.9" font-size="7.4" fill="#231f20" textLength="3" lengthAdjust="spacingAndGlyphs" stroke="#231f20" stroke-width="0.25">6</text>
<text x="430.6" y="224.9" font-size="7.4" fill="#231f20" textLength="14.2" lengthAdjust="spacingAndGlyphs" stroke="#231f20" stroke-width="0.25">1211</text>
<circle cx="76.6" cy="283.1" r="1.75" fill="#c8102e"/>
<circle cx="78.8" cy="283.1" r="1.75" fill="#c8102e"/>
<circle cx="87.6" cy="283.1" r="1.75" fill="#c8102e"/>
<circle cx="134.8" cy="283.1" r="1.75" fill="#c8102e"/>
<circle cx="173.2" cy="283.1" r="1.75" fill="#c8102e"/>
<circle cx="179.4" cy="283.1" r="1.75" fill="#c8102e"/>
<circle cx="186" cy="283.1" r="1.75" fill="#c8102e"/>
<circle cx="188.3" cy="283.1" r="1.75" fill="#c8102e"/>
<circle cx="341.8" cy="283.1" r="1.75" fill="#c8102e"/>
<circle cx="451.6" cy="283.1" r="1.75" fill="#c8102e"/>
<circle cx="497.6" cy="283.1" r="1.75" fill="#c8102e"/>
<circle cx="499.2" cy="283.1" r="1.75" fill="#c8102e"/>
<text x="76.05" y="287" font-size="7" text-anchor="end" fill="#c8102e" stroke="#c8102e" stroke-width="0.12" transform="rotate(-90 76.05 287)">JAK2</text>
<text x="82.35" y="287" font-size="7" text-anchor="end" fill="#c8102e" stroke="#c8102e" stroke-width="0.12" transform="rotate(-90 82.35 287)">CD274</text>
<text x="90.85" y="287" font-size="7" text-anchor="end" fill="#c8102e" stroke="#c8102e" stroke-width="0.12" transform="rotate(-90 90.85 287)">PTPRD</text>
<text x="137.45" y="287" font-size="7" text-anchor="end" fill="#c8102e" stroke="#c8102e" stroke-width="0.12" transform="rotate(-90 137.45 287)">CDKN2A</text>
<text x="175.75" y="287" font-size="7" text-anchor="end" fill="#c8102e" stroke="#c8102e" stroke-width="0.12" transform="rotate(-90 175.75 287)">TAF1L</text>
<text x="181.95" y="287" font-size="7" text-anchor="end" fill="#c8102e" stroke="#c8102e" stroke-width="0.12" transform="rotate(-90 181.95 287)">ARID3C</text>
<text x="187.75" y="287" font-size="7" text-anchor="end" fill="#c8102e" stroke="#c8102e" stroke-width="0.12" transform="rotate(-90 187.75 287)">PAX5</text>
<text x="193.75" y="287" font-size="7" text-anchor="end" fill="#c8102e" stroke="#c8102e" stroke-width="0.12" transform="rotate(-90 193.75 287)">GRHPR</text>
<text x="342.95" y="287" font-size="7" text-anchor="end" fill="#c8102e" stroke="#c8102e" stroke-width="0.12" transform="rotate(-90 342.95 287)">SYK</text>
<text x="453.45" y="287" font-size="7" text-anchor="end" fill="#c8102e" stroke="#c8102e" stroke-width="0.12" transform="rotate(-90 453.45 287)">TRAF1</text>
<text x="498.85" y="287" font-size="7" text-anchor="end" fill="#c8102e" stroke="#c8102e" stroke-width="0.12" textLength="29.6" lengthAdjust="spacingAndGlyphs" transform="rotate(-90 498.85 287)">NOTCH1</text>
<text x="506.15" y="287" font-size="7" text-anchor="end" fill="#c8102e" stroke="#c8102e" stroke-width="0.12" transform="rotate(-90 506.15 287)">TRAF2</text>
<text x="6.2" y="344.8" font-size="11" fill="#000" font-weight="bold" stroke="#000" stroke-width="0.25">C</text>
<text x="102.3" y="345" font-size="9.5" text-anchor="middle" fill="#231f20" stroke="#231f20" stroke-width="0.12" textLength="64.5" lengthAdjust="spacingAndGlyphs">Chromothripsis</text>
<line x1="41.6" y1="352" x2="41.6" y2="424.8" stroke="#231f20" stroke-width="1.1"/>
<line x1="41.1" y1="424.3" x2="162.6" y2="424.3" stroke="#231f20" stroke-width="1.1"/>
<line x1="38.6" y1="355.3" x2="41.6" y2="355.3" stroke="#231f20" stroke-width="0.9"/>
<text x="36.3" y="358.2" font-size="8.2" text-anchor="end" fill="#231f20" stroke="#231f20" stroke-width="0.12" textLength="15.3" lengthAdjust="spacingAndGlyphs">1.00</text>
<line x1="38.6" y1="371.9" x2="41.6" y2="371.9" stroke="#231f20" stroke-width="0.9"/>
<text x="36.3" y="374.8" font-size="8.2" text-anchor="end" fill="#231f20" stroke="#231f20" stroke-width="0.12" textLength="15.3" lengthAdjust="spacingAndGlyphs">0.75</text>
<line x1="38.6" y1="388.4" x2="41.6" y2="388.4" stroke="#231f20" stroke-width="0.9"/>
<text x="36.3" y="391.3" font-size="8.2" text-anchor="end" fill="#231f20" stroke="#231f20" stroke-width="0.12" textLength="15.3" lengthAdjust="spacingAndGlyphs">0.50</text>
<line x1="38.6" y1="405" x2="41.6" y2="405" stroke="#231f20" stroke-width="0.9"/>
<text x="36.3" y="407.9" font-size="8.2" text-anchor="end" fill="#231f20" stroke="#231f20" stroke-width="0.12" textLength="15.3" lengthAdjust="spacingAndGlyphs">0.25</text>
<line x1="38.6" y1="421.5" x2="41.6" y2="421.5" stroke="#231f20" stroke-width="0.9"/>
<text x="36.3" y="424.4" font-size="8.2" text-anchor="end" fill="#231f20" stroke="#231f20" stroke-width="0.12" textLength="15.3" lengthAdjust="spacingAndGlyphs">0.00</text>
<line x1="47.3" y1="424.3" x2="47.3" y2="427.3" stroke="#231f20" stroke-width="0.9"/>
<text x="47.3" y="437.7" font-size="8.2" text-anchor="middle" fill="#231f20" stroke="#231f20" stroke-width="0.12">0</text>
<line x1="74.9" y1="424.3" x2="74.9" y2="427.3" stroke="#231f20" stroke-width="0.9"/>
<text x="74.9" y="437.7" font-size="8.2" text-anchor="middle" fill="#231f20" stroke="#231f20" stroke-width="0.12">10</text>
<line x1="102.5" y1="424.3" x2="102.5" y2="427.3" stroke="#231f20" stroke-width="0.9"/>
<text x="102.5" y="437.7" font-size="8.2" text-anchor="middle" fill="#231f20" stroke="#231f20" stroke-width="0.12">20</text>
<line x1="130.1" y1="424.3" x2="130.1" y2="427.3" stroke="#231f20" stroke-width="0.9"/>
<text x="130.1" y="437.7" font-size="8.2" text-anchor="middle" fill="#231f20" stroke="#231f20" stroke-width="0.12">30</text>
<line x1="157.7" y1="424.3" x2="157.7" y2="427.3" stroke="#231f20" stroke-width="0.9"/>
<text x="157.7" y="437.7" font-size="8.2" text-anchor="middle" fill="#231f20" stroke="#231f20" stroke-width="0.12">40</text>
<text x="102.7" y="450.8" font-size="8.9" text-anchor="middle" fill="#231f20" stroke="#231f20" stroke-width="0.22" textLength="25" lengthAdjust="spacingAndGlyphs">Months</text>
<text x="15.4" y="387.9" font-size="8.9" text-anchor="middle" fill="#231f20" stroke="#231f20" stroke-width="0.22" textLength="35.2" lengthAdjust="spacingAndGlyphs" transform="rotate(-90 15.4 387.9)">Proportion</text>
<path d="M49.7 364.2 L55.2 364.2 L55.2 385.4 L56.8 385.4 L56.8 387 L58.8 387 L58.8 389 L60.9 389 L60.9 391.7 L68.9 391.7 L68.9 397.1 L71 397.1 L71 399.8 L74.6 399.8 L74.6 403.2 L99.2 403.2 L99.2 406.5 L102.2 406.5 L102.2 409.6 L146.6 409.6" fill="none" stroke="#1b5290" stroke-width="1.3"/>
<line x1="113.7" y1="408" x2="113.7" y2="411.2" stroke="#1b5290" stroke-width="0.8"/>
<line x1="116.4" y1="408" x2="116.4" y2="411.2" stroke="#1b5290" stroke-width="0.8"/>
<line x1="132.6" y1="408" x2="132.6" y2="411.2" stroke="#1b5290" stroke-width="0.8"/>
<line x1="146.6" y1="408" x2="146.6" y2="411.2" stroke="#1b5290" stroke-width="0.8"/>
<path d="M47.4 355.4 L49.7 355.4 L49.7 363.5 L55.5 363.5 L55.5 373.8 L57.9 373.8 L57.9 379.2 L63.6 379.2 L63.6 381.6 L91.5 381.6 L91.5 385.3 L153 385.3" fill="none" stroke="#c8102e" stroke-width="1.3"/>
<line x1="69.3" y1="380" x2="69.3" y2="383.2" stroke="#c8102e" stroke-width="0.8"/>
<line x1="71.6" y1="380" x2="71.6" y2="383.2" stroke="#c8102e" stroke-width="0.8"/>
<line x1="93.8" y1="383.7" x2="93.8" y2="386.9" stroke="#c8102e" stroke-width="0.8"/>
<line x1="113.2" y1="383.7" x2="113.2" y2="386.9" stroke="#c8102e" stroke-width="0.8"/>
<line x1="121.8" y1="383.7" x2="121.8" y2="386.9" stroke="#c8102e" stroke-width="0.8"/>
<line x1="130.3" y1="383.7" x2="130.3" y2="386.9" stroke="#c8102e" stroke-width="0.8"/>
<line x1="133" y1="383.7" x2="133" y2="386.9" stroke="#c8102e" stroke-width="0.8"/>
<line x1="138.7" y1="383.7" x2="138.7" y2="386.9" stroke="#c8102e" stroke-width="0.8"/>
<line x1="153" y1="383.7" x2="153" y2="386.9" stroke="#c8102e" stroke-width="0.8"/>
<text x="105.5" y="380.3" font-size="8.2" fill="#c8102e" stroke="#c8102e" stroke-width="0.12" textLength="59.8" lengthAdjust="spacingAndGlyphs">Chromothripsis –</text>
<text x="105" y="405.2" font-size="8.2" fill="#1b5290" stroke="#1b5290" stroke-width="0.12" textLength="61" lengthAdjust="spacingAndGlyphs">Chromothripsis +</text>
<text x="124.8" y="421.7" font-size="8.4" fill="#231f20" stroke="#231f20" stroke-width="0.12" textLength="34.2" lengthAdjust="spacingAndGlyphs">p = 0.026</text>
<text x="41" y="461.3" font-size="7.9" fill="#231f20" stroke="#231f20" stroke-width="0.12" textLength="52.6" lengthAdjust="spacingAndGlyphs">Number at risk</text>
<line x1="41.7" y1="465.5" x2="41.7" y2="487.6" stroke="#231f20" stroke-width="1.1"/>
<line x1="41.15" y1="487.1" x2="162.6" y2="487.1" stroke="#231f20" stroke-width="1.1"/>
<line x1="47.3" y1="487.1" x2="47.3" y2="490.1" stroke="#231f20" stroke-width="0.9"/>
<text x="47.3" y="499.1" font-size="8.2" text-anchor="middle" fill="#231f20" stroke="#231f20" stroke-width="0.12">0</text>
<line x1="74.9" y1="487.1" x2="74.9" y2="490.1" stroke="#231f20" stroke-width="0.9"/>
<text x="74.9" y="499.1" font-size="8.2" text-anchor="middle" fill="#231f20" stroke="#231f20" stroke-width="0.12">10</text>
<line x1="102.5" y1="487.1" x2="102.5" y2="490.1" stroke="#231f20" stroke-width="0.9"/>
<text x="102.5" y="499.1" font-size="8.2" text-anchor="middle" fill="#231f20" stroke="#231f20" stroke-width="0.12">20</text>
<line x1="130.1" y1="487.1" x2="130.1" y2="490.1" stroke="#231f20" stroke-width="0.9"/>
<text x="130.1" y="499.1" font-size="8.2" text-anchor="middle" fill="#231f20" stroke="#231f20" stroke-width="0.12">30</text>
<line x1="157.7" y1="487.1" x2="157.7" y2="490.1" stroke="#231f20" stroke-width="0.9"/>
<text x="157.7" y="499.1" font-size="8.2" text-anchor="middle" fill="#231f20" stroke="#231f20" stroke-width="0.12">40</text>
<line x1="38.7" y1="472.6" x2="41.7" y2="472.6" stroke="#231f20" stroke-width="0.9"/>
<line x1="38.7" y1="482.1" x2="41.7" y2="482.1" stroke="#231f20" stroke-width="0.9"/>
<line x1="25.2" y1="472.6" x2="35.3" y2="472.6" stroke="#c8102e" stroke-width="1.3"/>
<line x1="30.2" y1="471" x2="30.2" y2="474.2" stroke="#c8102e" stroke-width="0.8"/>
<line x1="25.2" y1="482.1" x2="35.3" y2="482.1" stroke="#1b5290" stroke-width="1.3"/>
<line x1="30.2" y1="480.5" x2="30.2" y2="483.7" stroke="#1b5290" stroke-width="0.8"/>
<text x="47.3" y="474.8" font-size="8.2" text-anchor="middle" fill="#231f20" stroke="#231f20" stroke-width="0.12">25</text>
<text x="74.9" y="474.8" font-size="8.2" text-anchor="middle" fill="#231f20" stroke="#231f20" stroke-width="0.12">12</text>
<text x="102.5" y="474.8" font-size="8.2" text-anchor="middle" fill="#231f20" stroke="#231f20" stroke-width="0.12">10</text>
<text x="130.1" y="474.8" font-size="8.2" text-anchor="middle" fill="#231f20" stroke="#231f20" stroke-width="0.12">7</text>
<text x="157.7" y="474.8" font-size="8.2" text-anchor="middle" fill="#231f20" stroke="#231f20" stroke-width="0.12">0</text>
<text x="47.3" y="484.4" font-size="8.2" text-anchor="middle" fill="#231f20" stroke="#231f20" stroke-width="0.12">22</text>
<text x="74.9" y="484.4" font-size="8.2" text-anchor="middle" fill="#231f20" stroke="#231f20" stroke-width="0.12">7</text>
<text x="102.5" y="484.4" font-size="8.2" text-anchor="middle" fill="#231f20" stroke="#231f20" stroke-width="0.12">5</text>
<text x="130.1" y="484.4" font-size="8.2" text-anchor="middle" fill="#231f20" stroke="#231f20" stroke-width="0.12">2</text>
<text x="157.7" y="484.4" font-size="8.2" text-anchor="middle" fill="#231f20" stroke="#231f20" stroke-width="0.12">0</text>
<text x="102.7" y="513" font-size="8.9" text-anchor="middle" fill="#231f20" stroke="#231f20" stroke-width="0.22" textLength="25" lengthAdjust="spacingAndGlyphs">Months</text>
<text x="176.4" y="344.4" font-size="11" fill="#000" font-weight="bold" stroke="#000" stroke-width="0.25">D</text>
<text x="271.4" y="345.1" font-size="9.5" text-anchor="middle" fill="#231f20" stroke="#231f20" stroke-width="0.12" textLength="61.3" lengthAdjust="spacingAndGlyphs">CAR_56 - chr8</text>
<line x1="203.4" y1="357" x2="203.4" y2="446.8" stroke="#231f20" stroke-width="1.1"/>
<line x1="200.4" y1="446.2" x2="203.4" y2="446.2" stroke="#231f20" stroke-width="0.9"/>
<text x="198" y="449.5" font-size="8.2" text-anchor="end" fill="#231f20" stroke="#231f20" stroke-width="0.12">0</text>
<line x1="200.4" y1="435.48" x2="203.4" y2="435.48" stroke="#231f20" stroke-width="0.9"/>
<text x="198" y="438.78" font-size="8.2" text-anchor="end" fill="#231f20" stroke="#231f20" stroke-width="0.12">1</text>
<line x1="200.4" y1="424.76" x2="203.4" y2="424.76" stroke="#231f20" stroke-width="0.9"/>
<text x="198" y="428.06" font-size="8.2" text-anchor="end" fill="#231f20" stroke="#231f20" stroke-width="0.12">2</text>
<line x1="200.4" y1="414.04" x2="203.4" y2="414.04" stroke="#231f20" stroke-width="0.9"/>
<text x="198" y="417.34" font-size="8.2" text-anchor="end" fill="#231f20" stroke="#231f20" stroke-width="0.12">3</text>
<line x1="200.4" y1="403.32" x2="203.4" y2="403.32" stroke="#231f20" stroke-width="0.9"/>
<text x="198" y="406.62" font-size="8.2" text-anchor="end" fill="#231f20" stroke="#231f20" stroke-width="0.12">4</text>
<line x1="200.4" y1="392.6" x2="203.4" y2="392.6" stroke="#231f20" stroke-width="0.9"/>
<text x="198" y="395.9" font-size="8.2" text-anchor="end" fill="#231f20" stroke="#231f20" stroke-width="0.12">5</text>
<line x1="200.4" y1="381.88" x2="203.4" y2="381.88" stroke="#231f20" stroke-width="0.9"/>
<text x="198" y="385.18" font-size="8.2" text-anchor="end" fill="#231f20" stroke="#231f20" stroke-width="0.12">6</text>
<line x1="200.4" y1="371.16" x2="203.4" y2="371.16" stroke="#231f20" stroke-width="0.9"/>
<text x="198" y="374.46" font-size="8.2" text-anchor="end" fill="#231f20" stroke="#231f20" stroke-width="0.12">7</text>
<line x1="200.4" y1="360.44" x2="203.4" y2="360.44" stroke="#231f20" stroke-width="0.9"/>
<text x="198" y="363.74" font-size="8.2" text-anchor="end" fill="#231f20" stroke="#231f20" stroke-width="0.12">8</text>
<text x="187.2" y="401.5" font-size="9.3" text-anchor="middle" fill="#231f20" stroke="#231f20" stroke-width="0.22" textLength="44.6" lengthAdjust="spacingAndGlyphs" transform="rotate(-90 187.2 401.5)">Copy number</text>
<line x1="202.85" y1="446.45" x2="338.8" y2="446.45" stroke="#231f20" stroke-width="1.2"/>
<line x1="212.3" y1="446.2" x2="212.3" y2="449.4" stroke="#231f20" stroke-width="0.9"/>
<line x1="333.8" y1="446.2" x2="333.8" y2="449.4" stroke="#231f20" stroke-width="0.9"/>
<text x="212.4" y="460.2" font-size="8.2" text-anchor="middle" fill="#231f20" stroke="#231f20" stroke-width="0.12" textLength="20" lengthAdjust="spacingAndGlyphs">78Mb</text>
<text x="333.8" y="460.2" font-size="8.2" text-anchor="middle" fill="#231f20" stroke="#231f20" stroke-width="0.12" textLength="25" lengthAdjust="spacingAndGlyphs">141Mb</text>
<text x="263.9" y="470.6" font-size="8.9" text-anchor="middle" fill="#231f20" stroke="#231f20" stroke-width="0.22" textLength="26.8" lengthAdjust="spacingAndGlyphs">Position</text>
<line x1="203.4" y1="425.3" x2="333.8" y2="425.3" stroke="#000" stroke-width="1.4"/>
<line x1="204.6" y1="435.5" x2="334" y2="435.5" stroke="#f7ab1f" stroke-width="1.5" stroke-dasharray="2.9 2.3"/>
<path d="M209.3 360.4 L212.5 370 L212.5 446" fill="none" stroke="#000" stroke-width="1"/>
<text x="206.7" y="359.3" font-size="7.8" fill="#231f20" stroke="#231f20" stroke-width="0.12" textLength="7.6" lengthAdjust="spacingAndGlyphs">17</text>
<path d="M217.1 446 L217.1 361.1 Q257.3 344.7 297.5 361.1 L297.5 446" fill="none" stroke="#3a6ea6" stroke-width="1.2"/>
<line x1="308.5" y1="366.3" x2="308.5" y2="446" stroke="#3cb54a" stroke-width="1"/>
<circle cx="308.3" cy="382" r="0.9" fill="#000"/>
<circle cx="308.3" cy="448.7" r="1.75" fill="#c8102e"/>
<text x="298.2" y="468.6" font-size="8.4" fill="#c8102e" stroke="#c8102e" stroke-width="0.12" textLength="18.2" lengthAdjust="spacingAndGlyphs" transform="rotate(-45 298.2 468.6)">MYC</text>
<text x="348.4" y="344.4" font-size="11" fill="#000" font-weight="bold" stroke="#000" stroke-width="0.25">E</text>
<text x="449.3" y="345" font-size="9.5" text-anchor="middle" fill="#231f20" stroke="#231f20" stroke-width="0.12" textLength="67.5" lengthAdjust="spacingAndGlyphs">Double minutes</text>
<line x1="386.1" y1="352" x2="386.1" y2="425.3" stroke="#231f20" stroke-width="1.1"/>
<line x1="385.6" y1="424.8" x2="512.3" y2="424.8" stroke="#231f20" stroke-width="1.1"/>
<line x1="383.1" y1="355.2" x2="386.1" y2="355.2" stroke="#231f20" stroke-width="0.9"/>
<text x="380.8" y="358.1" font-size="8.2" text-anchor="end" fill="#231f20" stroke="#231f20" stroke-width="0.12" textLength="15.3" lengthAdjust="spacingAndGlyphs">1.00</text>
<line x1="383.1" y1="371.8" x2="386.1" y2="371.8" stroke="#231f20" stroke-width="0.9"/>
<text x="380.8" y="374.7" font-size="8.2" text-anchor="end" fill="#231f20" stroke="#231f20" stroke-width="0.12" textLength="15.3" lengthAdjust="spacingAndGlyphs">0.75</text>
<line x1="383.1" y1="388.3" x2="386.1" y2="388.3" stroke="#231f20" stroke-width="0.9"/>
<text x="380.8" y="391.2" font-size="8.2" text-anchor="end" fill="#231f20" stroke="#231f20" stroke-width="0.12" textLength="15.3" lengthAdjust="spacingAndGlyphs">0.50</text>
<line x1="383.1" y1="404.9" x2="386.1" y2="404.9" stroke="#231f20" stroke-width="0.9"/>
<text x="380.8" y="407.8" font-size="8.2" text-anchor="end" fill="#231f20" stroke="#231f20" stroke-width="0.12" textLength="15.3" lengthAdjust="spacingAndGlyphs">0.25</text>
<line x1="383.1" y1="421.4" x2="386.1" y2="421.4" stroke="#231f20" stroke-width="0.9"/>
<text x="380.8" y="424.3" font-size="8.2" text-anchor="end" fill="#231f20" stroke="#231f20" stroke-width="0.12" textLength="15.3" lengthAdjust="spacingAndGlyphs">0.00</text>
<line x1="391.8" y1="424.8" x2="391.8" y2="427.8" stroke="#231f20" stroke-width="0.9"/>
<text x="391.8" y="438.2" font-size="8.2" text-anchor="middle" fill="#231f20" stroke="#231f20" stroke-width="0.12">0</text>
<line x1="420.8" y1="424.8" x2="420.8" y2="427.8" stroke="#231f20" stroke-width="0.9"/>
<text x="420.8" y="438.2" font-size="8.2" text-anchor="middle" fill="#231f20" stroke="#231f20" stroke-width="0.12">10</text>
<line x1="449.7" y1="424.8" x2="449.7" y2="427.8" stroke="#231f20" stroke-width="0.9"/>
<text x="449.7" y="438.2" font-size="8.2" text-anchor="middle" fill="#231f20" stroke="#231f20" stroke-width="0.12">20</text>
<line x1="478.6" y1="424.8" x2="478.6" y2="427.8" stroke="#231f20" stroke-width="0.9"/>
<text x="478.6" y="438.2" font-size="8.2" text-anchor="middle" fill="#231f20" stroke="#231f20" stroke-width="0.12">30</text>
<line x1="507.6" y1="424.8" x2="507.6" y2="427.8" stroke="#231f20" stroke-width="0.9"/>
<text x="507.6" y="438.2" font-size="8.2" text-anchor="middle" fill="#231f20" stroke="#231f20" stroke-width="0.12">40</text>
<text x="449.7" y="450.8" font-size="8.9" text-anchor="middle" fill="#231f20" stroke="#231f20" stroke-width="0.22" textLength="25" lengthAdjust="spacingAndGlyphs">Months</text>
<text x="359.4" y="388.3" font-size="8.9" text-anchor="middle" fill="#231f20" stroke="#231f20" stroke-width="0.22" textLength="35.6" lengthAdjust="spacingAndGlyphs" transform="rotate(-90 359.4 388.3)">Proportion</text>
<path d="M395 361.4 L400.4 361.4 L400.4 378.5 L403.7 378.5 L403.7 382.3 L407 382.3 L407 384.6 L409.4 384.6 L409.4 386.7 L415.2 386.7 L415.2 388.4 L417.3 388.4 L417.3 390 L420.6 390 L420.6 392.8 L446.3 392.8 L446.3 395.2 L501.6 395.2" fill="none" stroke="#c8102e" stroke-width="1.3"/>
<line x1="440.9" y1="391.2" x2="440.9" y2="394.4" stroke="#c8102e" stroke-width="0.8"/>
<line x1="461" y1="393.6" x2="461" y2="396.8" stroke="#c8102e" stroke-width="0.8"/>
<line x1="463.5" y1="393.6" x2="463.5" y2="396.8" stroke="#c8102e" stroke-width="0.8"/>
<line x1="470" y1="393.6" x2="470" y2="396.8" stroke="#c8102e" stroke-width="0.8"/>
<line x1="478.7" y1="393.6" x2="478.7" y2="396.8" stroke="#c8102e" stroke-width="0.8"/>
<line x1="481.1" y1="393.6" x2="481.1" y2="396.8" stroke="#c8102e" stroke-width="0.8"/>
<line x1="487.2" y1="393.6" x2="487.2" y2="396.8" stroke="#c8102e" stroke-width="0.8"/>
<line x1="495.8" y1="393.6" x2="495.8" y2="396.8" stroke="#c8102e" stroke-width="0.8"/>
<line x1="501.8" y1="393.6" x2="501.8" y2="396.8" stroke="#c8102e" stroke-width="0.8"/>
<path d="M392.3 355.3 L395 355.3 L395 372 L400.4 372 L400.4 405 L403.7 405 L403.7 421.1" fill="none" stroke="#1b5290" stroke-width="1.3"/>
<text x="484.8" y="392.3" font-size="8.2" fill="#c8102e" stroke="#c8102e" stroke-width="0.12" textLength="19.3" lengthAdjust="spacingAndGlyphs">DM –</text>
<text x="405.9" y="414.8" font-size="8.2" fill="#1b5290" stroke="#1b5290" stroke-width="0.12" textLength="19.7" lengthAdjust="spacingAndGlyphs">DM +</text>
<text x="474.6" y="421.9" font-size="8.4" fill="#231f20" stroke="#231f20" stroke-width="0.12" textLength="33.8" lengthAdjust="spacingAndGlyphs">p = 0.017</text>
<text x="385.7" y="461.3" font-size="7.9" fill="#231f20" stroke="#231f20" stroke-width="0.12" textLength="52.3" lengthAdjust="spacingAndGlyphs">Number at risk</text>
<line x1="385.6" y1="465.5" x2="385.6" y2="487" stroke="#231f20" stroke-width="1.1"/>
<line x1="385.05" y1="486.5" x2="512.4" y2="486.5" stroke="#231f20" stroke-width="1.1"/>
<line x1="391.8" y1="486.5" x2="391.8" y2="489.5" stroke="#231f20" stroke-width="0.9"/>
<text x="391.8" y="499.1" font-size="8.2" text-anchor="middle" fill="#231f20" stroke="#231f20" stroke-width="0.12">0</text>
<line x1="420.8" y1="486.5" x2="420.8" y2="489.5" stroke="#231f20" stroke-width="0.9"/>
<text x="420.8" y="499.1" font-size="8.2" text-anchor="middle" fill="#231f20" stroke="#231f20" stroke-width="0.12">10</text>
<line x1="449.7" y1="486.5" x2="449.7" y2="489.5" stroke="#231f20" stroke-width="0.9"/>
<text x="449.7" y="499.1" font-size="8.2" text-anchor="middle" fill="#231f20" stroke="#231f20" stroke-width="0.12">20</text>
<line x1="478.6" y1="486.5" x2="478.6" y2="489.5" stroke="#231f20" stroke-width="0.9"/>
<text x="478.6" y="499.1" font-size="8.2" text-anchor="middle" fill="#231f20" stroke="#231f20" stroke-width="0.12">30</text>
<line x1="507.6" y1="486.5" x2="507.6" y2="489.5" stroke="#231f20" stroke-width="0.9"/>
<text x="507.6" y="499.1" font-size="8.2" text-anchor="middle" fill="#231f20" stroke="#231f20" stroke-width="0.12">40</text>
<line x1="382.6" y1="472.6" x2="385.6" y2="472.6" stroke="#231f20" stroke-width="0.9"/>
<line x1="382.6" y1="482.3" x2="385.6" y2="482.3" stroke="#231f20" stroke-width="0.9"/>
<line x1="370.5" y1="472.6" x2="380.8" y2="472.6" stroke="#c8102e" stroke-width="1.3"/>
<line x1="375.6" y1="471" x2="375.6" y2="474.2" stroke="#c8102e" stroke-width="0.8"/>
<line x1="370.5" y1="482.3" x2="380.8" y2="482.3" stroke="#1b5290" stroke-width="1.3"/>
<line x1="375.6" y1="480.7" x2="375.6" y2="483.9" stroke="#1b5290" stroke-width="0.8"/>
<text x="391.8" y="474.8" font-size="8.2" text-anchor="middle" fill="#231f20" stroke="#231f20" stroke-width="0.12">34</text>
<text x="420.8" y="474.8" font-size="8.2" text-anchor="middle" fill="#231f20" stroke="#231f20" stroke-width="0.12">14</text>
<text x="449.7" y="474.8" font-size="8.2" text-anchor="middle" fill="#231f20" stroke="#231f20" stroke-width="0.12">11</text>
<text x="478.6" y="474.8" font-size="8.2" text-anchor="middle" fill="#231f20" stroke="#231f20" stroke-width="0.12">7</text>
<text x="507.6" y="474.8" font-size="8.2" text-anchor="middle" fill="#231f20" stroke="#231f20" stroke-width="0.12">0</text>
<text x="391.8" y="484.6" font-size="8.2" text-anchor="middle" fill="#231f20" stroke="#231f20" stroke-width="0.12">4</text>
<text x="420.8" y="484.6" font-size="8.2" text-anchor="middle" fill="#231f20" stroke="#231f20" stroke-width="0.12">0</text>
<text x="449.7" y="484.6" font-size="8.2" text-anchor="middle" fill="#231f20" stroke="#231f20" stroke-width="0.12">0</text>
<text x="478.6" y="484.6" font-size="8.2" text-anchor="middle" fill="#231f20" stroke="#231f20" stroke-width="0.12">0</text>
<text x="507.6" y="484.6" font-size="8.2" text-anchor="middle" fill="#231f20" stroke="#231f20" stroke-width="0.12">0</text>
<text x="449.7" y="512.2" font-size="8.9" text-anchor="middle" fill="#231f20" stroke="#231f20" stroke-width="0.22" textLength="25" lengthAdjust="spacingAndGlyphs">Months</text>
<rect x="0" y="0" width="520" height="1" fill="#000"/>
<rect x="0" y="0" width="1.4" height="520" fill="#000"/>
<rect x="518.5" y="0" width="1.5" height="520" fill="#000"/>
<rect x="0" y="518.5" width="520" height="1.5" fill="#000"/>
</svg>
</body></html>
